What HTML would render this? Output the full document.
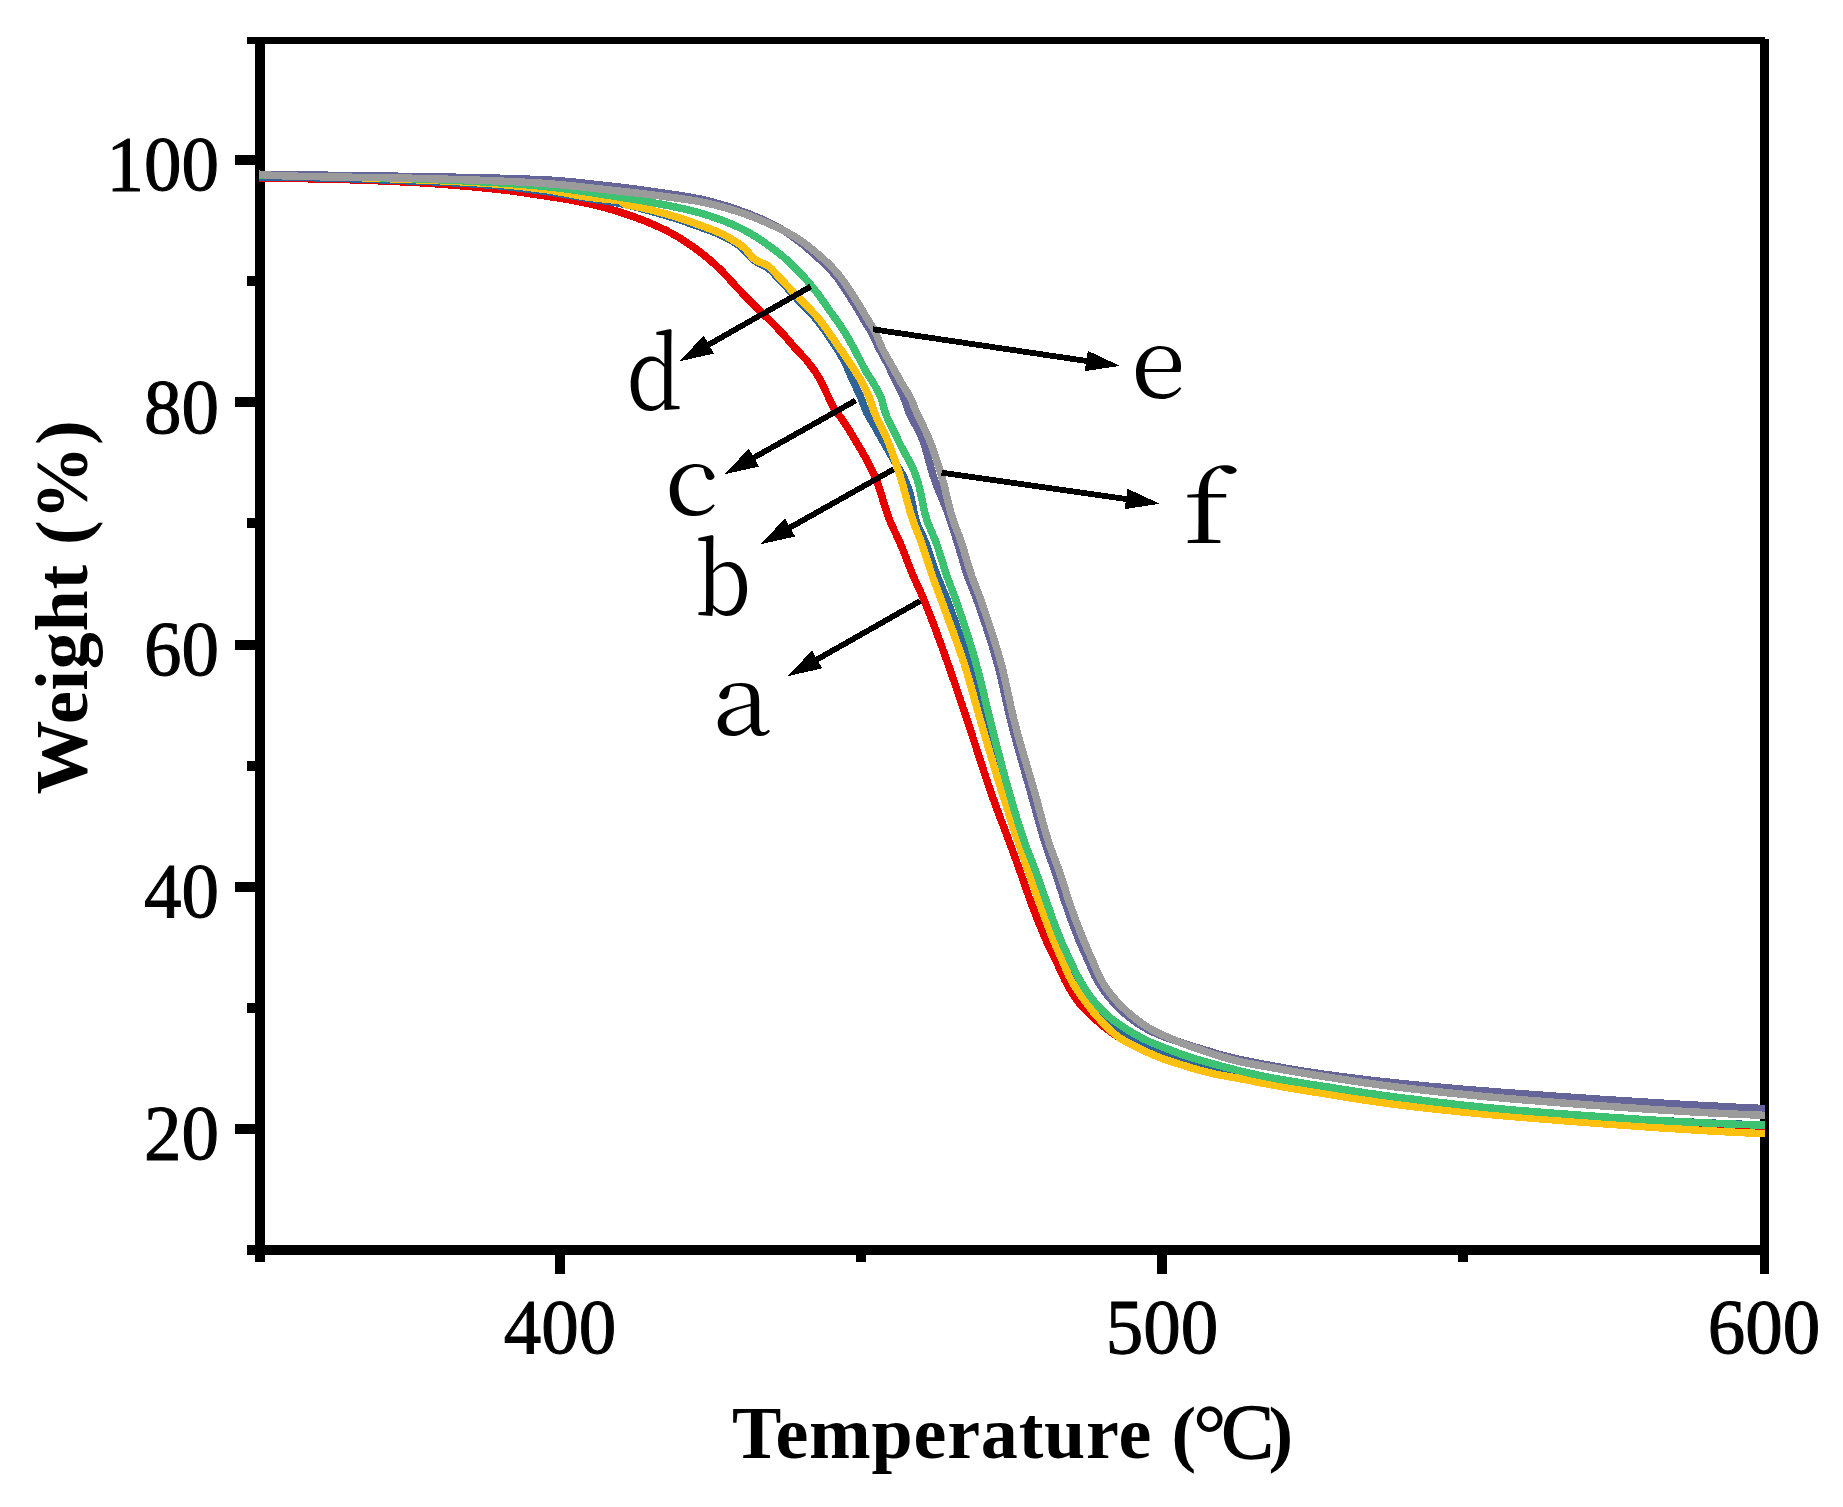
<!DOCTYPE html>
<html lang="en"><head><meta charset="utf-8"><title>TGA curves</title>
<style>html,body{margin:0;padding:0;background:#fff;overflow:hidden}svg{display:block}text{fill:#000}</style></head><body>
<svg width="1843" height="1507" viewBox="0 0 1843 1507">
<rect width="1843" height="1507" fill="#fff"/>
<g fill="#000" shape-rendering="crispEdges">
<rect x="255" y="37" width="10" height="1225"/>
<rect x="1760" y="39" width="9" height="1235"/>
<rect x="247" y="37" width="1518" height="7"/>
<rect x="247" y="1245" width="1522" height="10"/>
<rect x="235" y="1124" width="21" height="10"/>
<rect x="235" y="882" width="21" height="10"/>
<rect x="235" y="640" width="21" height="10"/>
<rect x="235" y="397" width="21" height="10"/>
<rect x="235" y="155" width="21" height="10"/>
<rect x="247" y="1003" width="9" height="10"/>
<rect x="247" y="761" width="9" height="10"/>
<rect x="247" y="518" width="9" height="10"/>
<rect x="247" y="276" width="9" height="10"/>
<rect x="555" y="1254" width="10" height="20"/>
<rect x="1157" y="1254" width="10" height="20"/>
<rect x="856" y="1254" width="10" height="8"/>
<rect x="1458" y="1254" width="10" height="8"/>
</g>
<g fill="none" stroke-width="7.5" stroke-linejoin="round" stroke-linecap="butt" shape-rendering="crispEdges">
<path stroke="#e60000" d="M259.0 178.0 L261.0 178.0 L263.0 178.0 L265.0 178.1 L267.0 178.1 L269.0 178.1 L271.0 178.1 L273.0 178.1 L275.0 178.2 L277.0 178.2 L279.0 178.2 L281.0 178.2 L283.0 178.3 L285.0 178.3 L287.0 178.3 L289.0 178.4 L291.0 178.4 L293.0 178.4 L295.0 178.5 L297.0 178.5 L299.0 178.6 L301.0 178.6 L303.0 178.6 L305.0 178.7 L307.0 178.7 L309.0 178.8 L311.0 178.8 L313.0 178.9 L315.0 178.9 L317.0 178.9 L319.0 179.0 L321.0 179.0 L323.0 179.1 L325.0 179.1 L327.0 179.2 L329.0 179.2 L331.0 179.3 L333.0 179.3 L335.0 179.4 L337.0 179.4 L339.0 179.5 L341.0 179.5 L343.0 179.6 L345.0 179.6 L347.0 179.7 L349.0 179.7 L351.0 179.8 L353.0 179.9 L355.0 179.9 L357.0 180.0 L359.0 180.1 L361.0 180.1 L363.0 180.2 L365.0 180.3 L367.0 180.3 L369.0 180.4 L371.0 180.5 L373.0 180.6 L375.0 180.6 L377.0 180.7 L379.0 180.8 L381.0 180.9 L383.0 181.0 L385.0 181.1 L387.0 181.1 L389.0 181.2 L391.0 181.3 L393.0 181.4 L395.0 181.5 L397.0 181.6 L399.0 181.7 L400.9 181.8 L402.9 181.9 L404.9 182.0 L406.9 182.1 L408.9 182.2 L410.9 182.3 L412.9 182.4 L414.9 182.5 L416.9 182.6 L418.9 182.7 L420.9 182.8 L422.9 183.0 L424.9 183.1 L426.9 183.2 L428.9 183.3 L430.9 183.5 L432.9 183.6 L434.9 183.7 L436.9 183.9 L438.9 184.0 L440.9 184.2 L442.9 184.3 L444.9 184.5 L446.9 184.6 L448.9 184.8 L450.9 184.9 L452.8 185.1 L454.8 185.2 L456.8 185.4 L458.8 185.6 L460.8 185.8 L462.8 185.9 L464.8 186.1 L466.8 186.3 L468.8 186.5 L470.8 186.6 L472.8 186.8 L474.8 187.0 L476.8 187.2 L478.8 187.4 L480.7 187.6 L482.7 187.8 L484.7 188.0 L486.7 188.2 L488.7 188.4 L490.7 188.6 L492.7 188.8 L494.7 189.0 L496.7 189.2 L498.6 189.4 L500.6 189.6 L502.6 189.9 L504.6 190.1 L506.6 190.3 L508.6 190.6 L510.5 190.8 L512.5 191.1 L514.5 191.4 L516.5 191.6 L518.5 191.9 L520.5 192.2 L522.4 192.5 L524.4 192.8 L526.4 193.1 L528.4 193.4 L530.4 193.7 L532.3 194.0 L534.3 194.3 L536.3 194.6 L538.3 194.9 L540.2 195.2 L542.2 195.5 L544.2 195.8 L546.2 196.1 L548.2 196.4 L550.1 196.7 L552.1 197.0 L554.1 197.3 L556.1 197.6 L558.0 197.9 L560.0 198.3 L562.0 198.6 L564.0 198.9 L566.0 199.3 L567.9 199.6 L569.9 199.9 L571.9 200.3 L573.8 200.6 L575.8 201.0 L577.8 201.4 L579.7 201.8 L581.7 202.2 L583.6 202.6 L585.6 203.0 L587.5 203.4 L589.5 203.8 L591.4 204.3 L593.4 204.7 L595.3 205.2 L597.3 205.7 L599.2 206.2 L601.1 206.7 L603.1 207.2 L605.0 207.7 L606.9 208.3 L608.9 208.8 L610.8 209.4 L612.7 209.9 L614.6 210.5 L616.5 211.1 L618.5 211.7 L620.4 212.3 L622.3 213.0 L624.2 213.6 L626.1 214.2 L628.0 214.9 L629.9 215.5 L631.8 216.2 L633.6 216.8 L635.5 217.5 L637.4 218.2 L639.3 218.9 L641.1 219.6 L643.0 220.3 L644.9 221.0 L646.7 221.7 L648.6 222.5 L650.4 223.3 L652.3 224.1 L654.1 224.9 L656.0 225.7 L657.8 226.5 L659.6 227.3 L661.4 228.2 L663.2 229.1 L665.0 229.9 L666.8 230.8 L668.6 231.8 L670.3 232.7 L672.1 233.6 L673.8 234.6 L675.5 235.6 L677.3 236.6 L679.0 237.6 L680.7 238.7 L682.4 239.7 L684.1 240.8 L685.8 241.9 L687.4 243.0 L689.1 244.2 L690.8 245.3 L692.4 246.5 L694.0 247.6 L695.7 248.8 L697.3 250.0 L698.9 251.2 L700.5 252.4 L702.1 253.6 L703.6 254.8 L705.2 256.1 L706.7 257.3 L708.3 258.6 L709.8 259.9 L711.3 261.2 L712.8 262.6 L714.3 263.9 L715.8 265.3 L717.2 266.6 L718.7 268.0 L720.1 269.4 L721.5 270.8 L722.9 272.2 L724.3 273.7 L725.7 275.1 L727.1 276.6 L728.4 278.0 L729.8 279.5 L731.1 281.0 L732.4 282.5 L733.8 284.0 L735.1 285.5 L736.5 286.9 L737.9 288.4 L739.2 289.9 L740.6 291.3 L742.0 292.7 L743.4 294.2 L744.8 295.6 L746.2 297.0 L747.6 298.5 L749.0 299.9 L750.4 301.3 L751.8 302.8 L753.2 304.2 L754.6 305.6 L756.0 307.0 L757.4 308.4 L758.8 309.8 L760.3 311.2 L761.7 312.6 L763.2 314.0 L764.6 315.4 L766.1 316.8 L767.5 318.1 L769.0 319.5 L770.4 320.9 L771.8 322.3 L773.2 323.7 L774.6 325.2 L776.0 326.6 L777.4 328.1 L778.8 329.5 L780.1 331.0 L781.5 332.4 L782.8 333.9 L784.2 335.4 L785.5 336.9 L786.8 338.4 L788.1 339.9 L789.4 341.4 L790.7 342.9 L792.0 344.5 L793.4 346.0 L794.7 347.5 L796.0 349.0 L797.3 350.5 L798.7 351.9 L800.1 353.4 L801.5 354.8 L802.9 356.3 L804.2 357.7 L805.6 359.2 L806.9 360.7 L808.1 362.3 L809.4 363.8 L810.6 365.4 L811.8 367.0 L813.0 368.6 L814.2 370.3 L815.3 371.9 L816.4 373.6 L817.5 375.3 L818.6 377.0 L819.6 378.7 L820.5 380.4 L821.4 382.2 L822.3 384.0 L823.2 385.8 L824.0 387.6 L824.9 389.4 L825.7 391.3 L826.6 393.1 L827.4 394.9 L828.3 396.7 L829.1 398.5 L830.0 400.3 L830.8 402.2 L831.7 404.0 L832.5 405.8 L833.5 407.5 L834.5 409.3 L835.5 410.9 L836.7 412.5 L838.0 414.1 L839.3 415.6 L840.5 417.2 L841.6 418.9 L842.8 420.5 L843.9 422.2 L845.0 423.8 L846.1 425.5 L847.2 427.2 L848.3 428.9 L849.4 430.5 L850.4 432.2 L851.5 433.9 L852.5 435.6 L853.6 437.4 L854.6 439.1 L855.6 440.8 L856.6 442.5 L857.7 444.2 L858.7 446.0 L859.7 447.7 L860.7 449.4 L861.7 451.1 L862.7 452.9 L863.7 454.6 L864.7 456.4 L865.7 458.1 L866.7 459.9 L867.7 461.7 L868.6 463.4 L869.5 465.2 L870.4 467.0 L871.3 468.8 L872.2 470.6 L873.0 472.4 L873.9 474.2 L874.7 476.0 L875.4 477.8 L876.2 479.6 L876.9 481.5 L877.6 483.4 L878.3 485.2 L878.9 487.1 L879.5 489.0 L880.2 490.9 L880.8 492.8 L881.4 494.7 L882.0 496.7 L882.5 498.6 L883.1 500.5 L883.7 502.4 L884.3 504.4 L884.9 506.3 L885.5 508.2 L886.1 510.1 L886.7 512.0 L887.4 513.9 L888.0 515.8 L888.7 517.7 L889.4 519.5 L890.2 521.4 L890.9 523.2 L891.7 525.1 L892.6 526.9 L893.4 528.7 L894.3 530.5 L895.1 532.3 L896.0 534.1 L896.9 535.9 L897.7 537.7 L898.6 539.5 L899.4 541.4 L900.2 543.2 L900.9 545.0 L901.7 546.9 L902.5 548.7 L903.2 550.6 L904.0 552.5 L904.7 554.3 L905.4 556.2 L906.1 558.0 L906.9 559.9 L907.6 561.8 L908.3 563.6 L909.0 565.5 L909.8 567.4 L910.5 569.2 L911.3 571.1 L912.0 572.9 L912.8 574.8 L913.6 576.6 L914.4 578.5 L915.2 580.3 L916.0 582.1 L916.8 583.9 L917.7 585.7 L918.5 587.6 L919.3 589.4 L920.2 591.2 L921.0 593.0 L921.8 594.9 L922.6 596.7 L923.4 598.5 L924.2 600.4 L924.9 602.2 L925.7 604.1 L926.4 605.9 L927.2 607.8 L927.9 609.6 L928.6 611.5 L929.4 613.3 L930.1 615.2 L930.8 617.1 L931.5 618.9 L932.2 620.8 L933.0 622.7 L933.7 624.6 L934.4 626.4 L935.1 628.3 L935.8 630.2 L936.5 632.0 L937.2 633.9 L937.9 635.8 L938.5 637.7 L939.2 639.6 L939.9 641.4 L940.6 643.3 L941.3 645.2 L942.0 647.1 L942.6 649.0 L943.3 650.9 L944.0 652.7 L944.7 654.6 L945.3 656.5 L946.0 658.4 L946.7 660.3 L947.4 662.2 L948.0 664.0 L948.7 665.9 L949.4 667.8 L950.0 669.7 L950.7 671.6 L951.4 673.5 L952.0 675.4 L952.7 677.2 L953.3 679.1 L954.0 681.0 L954.6 682.9 L955.3 684.8 L955.9 686.7 L956.6 688.6 L957.2 690.5 L957.8 692.4 L958.5 694.3 L959.1 696.2 L959.8 698.1 L960.4 700.0 L961.0 701.9 L961.7 703.8 L962.3 705.7 L962.9 707.6 L963.6 709.5 L964.2 711.3 L964.8 713.2 L965.5 715.1 L966.1 717.0 L966.7 718.9 L967.4 720.8 L968.0 722.7 L968.6 724.6 L969.3 726.5 L969.9 728.4 L970.5 730.3 L971.2 732.2 L971.8 734.1 L972.4 736.0 L973.0 737.9 L973.6 739.8 L974.3 741.7 L974.9 743.6 L975.5 745.5 L976.1 747.4 L976.7 749.3 L977.3 751.2 L977.9 753.2 L978.6 755.1 L979.2 757.0 L979.8 758.9 L980.4 760.8 L981.0 762.7 L981.7 764.6 L982.3 766.5 L982.9 768.4 L983.5 770.3 L984.1 772.2 L984.8 774.1 L985.4 776.0 L986.0 777.9 L986.7 779.8 L987.3 781.7 L987.9 783.6 L988.6 785.4 L989.2 787.3 L989.9 789.2 L990.5 791.1 L991.2 793.0 L991.9 794.9 L992.5 796.8 L993.2 798.7 L993.9 800.5 L994.5 802.4 L995.2 804.3 L995.9 806.2 L996.6 808.1 L997.3 809.9 L998.0 811.8 L998.7 813.7 L999.4 815.5 L1000.1 817.4 L1000.8 819.3 L1001.5 821.2 L1002.2 823.0 L1003.0 824.9 L1003.7 826.8 L1004.4 828.6 L1005.1 830.5 L1005.8 832.4 L1006.5 834.3 L1007.2 836.1 L1007.9 838.0 L1008.6 839.9 L1009.3 841.7 L1010.0 843.6 L1010.7 845.5 L1011.4 847.4 L1012.1 849.3 L1012.7 851.1 L1013.4 853.0 L1014.1 854.9 L1014.8 856.8 L1015.5 858.7 L1016.2 860.5 L1016.8 862.4 L1017.5 864.3 L1018.2 866.2 L1018.9 868.1 L1019.5 869.9 L1020.2 871.8 L1020.9 873.7 L1021.6 875.6 L1022.2 877.5 L1022.9 879.4 L1023.5 881.3 L1024.2 883.1 L1024.9 885.0 L1025.5 886.9 L1026.2 888.8 L1026.8 890.7 L1027.5 892.6 L1028.2 894.5 L1028.8 896.4 L1029.5 898.3 L1030.2 900.1 L1030.9 902.0 L1031.5 903.9 L1032.2 905.8 L1033.0 907.6 L1033.7 909.5 L1034.4 911.4 L1035.1 913.2 L1035.8 915.1 L1036.5 917.0 L1037.2 918.8 L1038.0 920.7 L1038.7 922.6 L1039.5 924.4 L1040.2 926.3 L1041.0 928.1 L1041.7 930.0 L1042.5 931.8 L1043.3 933.7 L1044.1 935.5 L1044.8 937.3 L1045.6 939.2 L1046.5 941.0 L1047.3 942.8 L1048.1 944.6 L1049.0 946.4 L1049.9 948.2 L1050.7 950.0 L1051.6 951.8 L1052.5 953.6 L1053.4 955.4 L1054.2 957.2 L1055.1 959.0 L1056.0 960.8 L1056.9 962.6 L1057.7 964.4 L1058.6 966.2 L1059.4 968.1 L1060.2 969.9 L1061.1 971.7 L1061.9 973.5 L1062.7 975.4 L1063.6 977.2 L1064.4 979.0 L1065.3 980.8 L1066.3 982.5 L1067.2 984.3 L1068.2 986.0 L1069.2 987.8 L1070.2 989.5 L1071.2 991.3 L1072.3 993.0 L1073.3 994.7 L1074.4 996.4 L1075.5 998.0 L1076.7 999.7 L1077.8 1001.3 L1079.0 1002.8 L1080.3 1004.4 L1081.6 1005.9 L1082.9 1007.4 L1084.3 1008.8 L1085.7 1010.3 L1087.1 1011.7 L1088.5 1013.1 L1090.0 1014.5 L1091.5 1015.8 L1093.0 1017.2 L1094.5 1018.5 L1096.0 1019.9 L1097.5 1021.2 L1099.0 1022.5 L1100.5 1023.8 L1102.0 1025.1 L1103.6 1026.4 L1105.1 1027.6 L1106.7 1028.9 L1108.3 1030.1 L1109.9 1031.3 L1111.5 1032.5 L1113.2 1033.6 L1114.8 1034.7 L1116.5 1035.8 L1118.2 1036.8 L1119.9 1037.9 L1121.6 1038.9 L1123.4 1039.8 L1125.1 1040.8 L1126.9 1041.7 L1128.7 1042.6 L1130.5 1043.5 L1132.3 1044.4 L1134.1 1045.3 L1135.9 1046.1 L1137.7 1047.0 L1139.5 1047.9 L1141.3 1048.7 L1143.1 1049.6 L1145.0 1050.4 L1146.8 1051.2 L1148.6 1052.0 L1150.5 1052.8 L1152.3 1053.6 L1154.1 1054.4 L1156.0 1055.1 L1157.9 1055.9 L1159.7 1056.6 L1161.6 1057.3 L1163.5 1057.9 L1165.4 1058.6 L1167.3 1059.3 L1169.2 1059.9 L1171.1 1060.5 L1173.0 1061.1 L1174.9 1061.8 L1176.8 1062.4 L1178.7 1063.0 L1180.6 1063.6 L1182.5 1064.1 L1184.4 1064.7 L1186.3 1065.3 L1188.3 1065.9 L1190.2 1066.4 L1192.1 1066.9 L1194.0 1067.5 L1196.0 1068.0 L1197.9 1068.5 L1199.8 1069.0 L1201.8 1069.5 L1203.7 1070.0 L1205.6 1070.5 L1207.6 1071.0 L1209.5 1071.5 L1211.5 1071.9 L1213.4 1072.4 L1215.4 1072.8 L1217.3 1073.2 L1219.3 1073.6 L1221.3 1074.0 L1223.2 1074.3 L1225.2 1074.7 L1227.2 1075.0 L1229.1 1075.4 L1231.1 1075.7 L1233.1 1076.1 L1235.0 1076.4 L1237.0 1076.8 L1239.0 1077.1 L1241.0 1077.5 L1242.9 1077.8 L1244.9 1078.2 L1246.8 1078.6 L1248.8 1079.0 L1250.8 1079.4 L1252.7 1079.7 L1254.7 1080.1 L1256.7 1080.5 L1258.6 1080.9 L1260.6 1081.2 L1262.6 1081.6 L1264.5 1082.0 L1266.5 1082.4 L1268.5 1082.7 L1270.4 1083.1 L1272.4 1083.4 L1274.4 1083.8 L1276.3 1084.1 L1278.3 1084.5 L1280.3 1084.8 L1282.2 1085.2 L1284.2 1085.5 L1286.2 1085.8 L1288.2 1086.2 L1290.1 1086.5 L1292.1 1086.9 L1294.1 1087.2 L1296.0 1087.5 L1298.0 1087.8 L1300.0 1088.2 L1302.0 1088.5 L1303.9 1088.8 L1305.9 1089.1 L1307.9 1089.5 L1309.9 1089.8 L1311.8 1090.1 L1313.8 1090.4 L1315.8 1090.7 L1317.8 1091.0 L1319.7 1091.4 L1321.7 1091.7 L1323.7 1092.0 L1325.7 1092.3 L1327.6 1092.6 L1329.6 1092.9 L1331.6 1093.3 L1333.6 1093.6 L1335.5 1093.9 L1337.5 1094.2 L1339.5 1094.5 L1341.5 1094.8 L1343.4 1095.2 L1345.4 1095.5 L1347.4 1095.8 L1349.4 1096.1 L1351.3 1096.4 L1353.3 1096.7 L1355.3 1097.0 L1357.3 1097.3 L1359.3 1097.6 L1361.2 1097.9 L1363.2 1098.2 L1365.2 1098.5 L1367.2 1098.8 L1369.2 1099.1 L1371.1 1099.4 L1373.1 1099.6 L1375.1 1099.9 L1377.1 1100.2 L1379.1 1100.5 L1381.0 1100.7 L1383.0 1101.0 L1385.0 1101.3 L1387.0 1101.6 L1389.0 1101.8 L1390.9 1102.1 L1392.9 1102.3 L1394.9 1102.6 L1396.9 1102.8 L1398.9 1103.1 L1400.9 1103.3 L1402.8 1103.5 L1404.8 1103.8 L1406.8 1104.0 L1408.8 1104.2 L1410.8 1104.5 L1412.8 1104.7 L1414.8 1104.9 L1416.7 1105.2 L1418.7 1105.4 L1420.7 1105.6 L1422.7 1105.8 L1424.7 1106.1 L1426.7 1106.3 L1428.7 1106.5 L1430.7 1106.7 L1432.6 1106.9 L1434.6 1107.1 L1436.6 1107.4 L1438.6 1107.6 L1440.6 1107.8 L1442.6 1108.0 L1444.6 1108.2 L1446.6 1108.4 L1448.6 1108.6 L1450.5 1108.8 L1452.5 1109.0 L1454.5 1109.2 L1456.5 1109.4 L1458.5 1109.6 L1460.5 1109.8 L1462.5 1110.0 L1464.5 1110.2 L1466.5 1110.4 L1468.5 1110.6 L1470.5 1110.8 L1472.4 1111.0 L1474.4 1111.2 L1476.4 1111.4 L1478.4 1111.5 L1480.4 1111.7 L1482.4 1111.9 L1484.4 1112.1 L1486.4 1112.3 L1488.4 1112.5 L1490.4 1112.6 L1492.4 1112.8 L1494.4 1113.0 L1496.4 1113.2 L1498.3 1113.3 L1500.3 1113.5 L1502.3 1113.7 L1504.3 1113.9 L1506.3 1114.0 L1508.3 1114.2 L1510.3 1114.4 L1512.3 1114.5 L1514.3 1114.7 L1516.3 1114.9 L1518.3 1115.0 L1520.3 1115.2 L1522.3 1115.4 L1524.3 1115.5 L1526.2 1115.7 L1528.2 1115.9 L1530.2 1116.0 L1532.2 1116.2 L1534.2 1116.3 L1536.2 1116.5 L1538.2 1116.7 L1540.2 1116.8 L1542.2 1117.0 L1544.2 1117.1 L1546.2 1117.3 L1548.2 1117.5 L1550.2 1117.6 L1552.2 1117.8 L1554.1 1117.9 L1556.1 1118.1 L1558.1 1118.2 L1560.1 1118.4 L1562.1 1118.6 L1564.1 1118.7 L1566.1 1118.9 L1568.1 1119.0 L1570.1 1119.2 L1572.1 1119.3 L1574.1 1119.5 L1576.1 1119.6 L1578.1 1119.8 L1580.1 1119.9 L1582.1 1120.1 L1584.1 1120.2 L1586.0 1120.4 L1588.0 1120.6 L1590.0 1120.7 L1592.0 1120.9 L1594.0 1121.0 L1596.0 1121.1 L1598.0 1121.3 L1600.0 1121.4 L1602.0 1121.6 L1604.0 1121.7 L1606.0 1121.9 L1608.0 1122.0 L1610.0 1122.2 L1612.0 1122.3 L1614.0 1122.5 L1616.0 1122.6 L1618.0 1122.8 L1620.0 1122.9 L1621.9 1123.0 L1623.9 1123.2 L1625.9 1123.3 L1627.9 1123.5 L1629.9 1123.6 L1631.9 1123.7 L1633.9 1123.9 L1635.9 1124.0 L1637.9 1124.2 L1639.9 1124.3 L1641.9 1124.4 L1643.9 1124.6 L1645.9 1124.7 L1647.9 1124.8 L1649.9 1125.0 L1651.9 1125.1 L1653.9 1125.2 L1655.9 1125.4 L1657.9 1125.5 L1659.9 1125.6 L1661.9 1125.8 L1663.8 1125.9 L1665.8 1126.0 L1667.8 1126.2 L1669.8 1126.3 L1671.8 1126.4 L1673.8 1126.5 L1675.8 1126.7 L1677.8 1126.8 L1679.8 1126.9 L1681.8 1127.0 L1683.8 1127.2 L1685.8 1127.3 L1687.8 1127.4 L1689.8 1127.5 L1691.8 1127.6 L1693.8 1127.8 L1695.8 1127.9 L1697.8 1128.0 L1699.8 1128.1 L1701.8 1128.2 L1703.8 1128.4 L1705.8 1128.5 L1707.8 1128.6 L1709.8 1128.7 L1711.8 1128.8 L1713.8 1128.9 L1715.8 1129.0 L1717.8 1129.1 L1719.8 1129.2 L1721.8 1129.4 L1723.8 1129.5 L1725.8 1129.6 L1727.8 1129.7 L1729.8 1129.8 L1731.7 1129.9 L1733.7 1130.0 L1735.7 1130.1 L1737.7 1130.2 L1739.7 1130.3 L1741.7 1130.4 L1743.7 1130.5 L1745.7 1130.6 L1747.7 1130.7 L1749.7 1130.8 L1751.7 1130.9 L1753.7 1131.0 L1755.7 1131.1 L1757.7 1131.2 L1759.7 1131.3 L1761.7 1131.4 L1763.7 1131.4 L1765.0 1131.5"/>
<path stroke="#2f6497" d="M259.0 176.8 L261.0 176.8 L263.0 176.8 L265.0 176.9 L267.0 176.9 L269.0 176.9 L271.0 176.9 L273.0 177.0 L275.0 177.0 L277.0 177.0 L279.0 177.0 L281.0 177.1 L283.0 177.1 L285.0 177.1 L287.0 177.2 L289.0 177.2 L291.0 177.2 L293.0 177.3 L295.0 177.3 L297.0 177.4 L299.0 177.4 L301.0 177.4 L303.0 177.5 L305.0 177.5 L307.0 177.6 L309.0 177.6 L311.0 177.7 L313.0 177.7 L315.0 177.8 L317.0 177.8 L319.0 177.9 L321.0 177.9 L323.0 178.0 L325.0 178.0 L327.0 178.1 L329.0 178.1 L331.0 178.2 L333.0 178.3 L335.0 178.3 L337.0 178.4 L339.0 178.4 L341.0 178.5 L343.0 178.5 L345.0 178.6 L347.0 178.7 L349.0 178.7 L351.0 178.8 L353.0 178.9 L355.0 178.9 L357.0 179.0 L359.0 179.1 L361.0 179.1 L363.0 179.2 L365.0 179.3 L367.0 179.3 L369.0 179.4 L371.0 179.5 L373.0 179.5 L375.0 179.6 L377.0 179.7 L379.0 179.7 L381.0 179.8 L383.0 179.9 L385.0 180.0 L387.0 180.0 L389.0 180.1 L391.0 180.2 L393.0 180.2 L395.0 180.3 L397.0 180.4 L399.0 180.5 L401.0 180.5 L403.0 180.6 L405.0 180.7 L406.9 180.8 L408.9 180.8 L410.9 180.9 L412.9 181.0 L414.9 181.1 L416.9 181.2 L418.9 181.2 L420.9 181.3 L422.9 181.4 L424.9 181.5 L426.9 181.6 L428.9 181.6 L430.9 181.7 L432.9 181.8 L434.9 181.9 L436.9 182.0 L438.9 182.1 L440.9 182.2 L442.9 182.3 L444.9 182.4 L446.9 182.5 L448.9 182.6 L450.9 182.7 L452.9 182.8 L454.9 182.9 L456.9 183.0 L458.9 183.2 L460.9 183.3 L462.9 183.4 L464.9 183.5 L466.9 183.6 L468.9 183.7 L470.9 183.9 L472.9 184.0 L474.9 184.1 L476.9 184.3 L478.9 184.4 L480.9 184.5 L482.9 184.7 L484.9 184.8 L486.8 185.0 L488.8 185.1 L490.8 185.3 L492.8 185.4 L494.8 185.6 L496.8 185.7 L498.8 185.9 L500.8 186.1 L502.8 186.3 L504.8 186.5 L506.8 186.7 L508.7 186.9 L510.7 187.1 L512.7 187.3 L514.7 187.5 L516.7 187.8 L518.7 188.0 L520.7 188.3 L522.7 188.5 L524.6 188.8 L526.6 189.0 L528.6 189.3 L530.6 189.5 L532.6 189.8 L534.6 190.1 L536.5 190.3 L538.5 190.6 L540.5 190.9 L542.5 191.2 L544.5 191.4 L546.5 191.7 L548.4 192.0 L550.4 192.3 L552.4 192.6 L554.4 192.9 L556.3 193.2 L558.3 193.5 L560.3 193.9 L562.3 194.2 L564.2 194.5 L566.2 194.9 L568.2 195.2 L570.1 195.5 L572.1 195.9 L574.1 196.2 L576.1 196.6 L578.0 196.9 L580.0 197.2 L582.0 197.6 L583.9 197.9 L585.9 198.2 L587.9 198.5 L589.9 198.8 L591.8 199.1 L593.8 199.4 L595.8 199.7 L597.8 200.0 L599.8 200.3 L601.8 200.5 L603.7 200.8 L605.7 201.1 L607.7 201.4 L609.7 201.7 L611.7 202.0 L613.6 202.3 L615.6 202.6 L617.6 202.9 L619.5 203.3 L621.5 203.7 L623.4 204.1 L625.4 204.6 L627.3 205.1 L629.3 205.6 L631.2 206.0 L633.2 206.5 L635.1 207.0 L637.0 207.5 L639.0 208.0 L640.9 208.5 L642.8 209.0 L644.8 209.5 L646.7 210.1 L648.6 210.6 L650.6 211.1 L652.5 211.7 L654.4 212.2 L656.3 212.8 L658.3 213.3 L660.2 213.9 L662.1 214.4 L664.0 215.0 L665.9 215.6 L667.9 216.1 L669.8 216.7 L671.7 217.3 L673.6 217.9 L675.5 218.5 L677.4 219.1 L679.3 219.8 L681.2 220.4 L683.1 221.0 L685.0 221.7 L686.9 222.3 L688.8 223.0 L690.6 223.7 L692.5 224.3 L694.4 225.0 L696.3 225.7 L698.2 226.3 L700.1 227.0 L701.9 227.7 L703.8 228.4 L705.7 229.1 L707.6 229.7 L709.5 230.4 L711.4 231.1 L713.2 231.9 L715.1 232.6 L716.9 233.4 L718.8 234.2 L720.6 235.0 L722.4 235.8 L724.2 236.7 L726.0 237.6 L727.8 238.6 L729.5 239.5 L731.3 240.5 L733.0 241.6 L734.7 242.6 L736.4 243.7 L738.0 244.8 L739.6 246.0 L741.1 247.2 L742.6 248.6 L744.0 250.0 L745.4 251.4 L746.8 252.9 L748.2 254.4 L749.6 255.9 L751.0 257.3 L752.5 258.7 L754.0 260.0 L755.6 261.1 L757.2 262.2 L759.0 263.1 L760.8 264.1 L762.6 265.0 L764.4 266.0 L766.1 267.0 L767.8 268.0 L769.3 269.2 L770.8 270.5 L772.3 271.9 L773.7 273.3 L775.1 274.8 L776.5 276.3 L777.8 277.7 L779.2 279.2 L780.6 280.6 L782.0 282.1 L783.3 283.6 L784.7 285.0 L786.0 286.5 L787.3 288.0 L788.7 289.5 L790.0 291.0 L791.3 292.5 L792.7 294.0 L794.0 295.5 L795.3 297.0 L796.7 298.4 L798.1 299.9 L799.5 301.3 L800.9 302.8 L802.3 304.2 L803.7 305.6 L805.1 307.0 L806.5 308.4 L807.9 309.9 L809.3 311.3 L810.6 312.8 L811.9 314.3 L813.3 315.8 L814.6 317.3 L815.9 318.8 L817.1 320.4 L818.4 321.9 L819.6 323.5 L820.8 325.1 L822.0 326.7 L823.2 328.3 L824.4 329.9 L825.6 331.6 L826.7 333.2 L827.9 334.8 L829.0 336.5 L830.1 338.2 L831.2 339.8 L832.3 341.5 L833.4 343.2 L834.5 344.8 L835.6 346.5 L836.7 348.2 L837.7 349.9 L838.8 351.6 L839.8 353.3 L840.9 355.0 L841.8 356.8 L842.8 358.5 L843.7 360.3 L844.6 362.1 L845.5 363.8 L846.4 365.7 L847.2 367.5 L848.0 369.3 L848.8 371.1 L849.6 373.0 L850.4 374.8 L851.2 376.6 L852.1 378.5 L852.9 380.3 L853.7 382.1 L854.6 383.9 L855.4 385.7 L856.3 387.5 L857.1 389.4 L858.0 391.2 L858.8 393.0 L859.6 394.8 L860.4 396.7 L861.2 398.5 L861.9 400.3 L862.6 402.2 L863.3 404.1 L864.0 406.0 L864.6 407.9 L865.4 409.7 L866.2 411.5 L867.1 413.3 L868.0 415.1 L869.0 416.8 L870.0 418.6 L871.0 420.3 L872.0 422.0 L873.1 423.8 L874.1 425.5 L875.1 427.2 L876.1 429.0 L877.1 430.7 L878.0 432.4 L879.0 434.2 L880.0 435.9 L881.0 437.7 L882.0 439.4 L883.0 441.1 L884.0 442.9 L884.9 444.6 L885.9 446.4 L886.9 448.1 L887.9 449.8 L888.9 451.6 L889.9 453.3 L890.9 455.0 L891.9 456.8 L892.9 458.5 L893.9 460.2 L894.9 462.0 L895.9 463.7 L897.0 465.4 L898.0 467.1 L899.1 468.8 L900.1 470.5 L901.2 472.3 L902.1 474.0 L903.1 475.8 L903.9 477.5 L904.8 479.4 L905.5 481.2 L906.3 483.0 L907.0 484.9 L907.8 486.8 L908.4 488.7 L909.1 490.6 L909.7 492.5 L910.2 494.4 L910.7 496.3 L911.2 498.3 L911.6 500.2 L912.0 502.2 L912.4 504.2 L912.8 506.1 L913.2 508.1 L913.6 510.1 L914.0 512.1 L914.4 514.0 L914.8 516.0 L915.3 517.9 L915.8 519.8 L916.4 521.7 L917.1 523.5 L917.8 525.4 L918.6 527.2 L919.4 529.1 L920.2 530.9 L921.1 532.7 L922.0 534.5 L922.8 536.4 L923.7 538.2 L924.5 540.0 L925.2 541.9 L926.0 543.7 L926.7 545.6 L927.3 547.5 L928.0 549.4 L928.7 551.3 L929.3 553.1 L930.0 555.0 L930.6 556.9 L931.3 558.8 L931.9 560.7 L932.5 562.6 L933.2 564.5 L933.8 566.4 L934.5 568.3 L935.1 570.2 L935.8 572.1 L936.5 574.0 L937.2 575.8 L937.9 577.7 L938.7 579.5 L939.4 581.4 L940.2 583.2 L941.0 585.1 L941.7 586.9 L942.5 588.8 L943.3 590.6 L944.1 592.5 L944.8 594.3 L945.6 596.2 L946.3 598.0 L947.1 599.9 L947.8 601.8 L948.5 603.6 L949.2 605.5 L949.9 607.4 L950.6 609.2 L951.2 611.1 L951.9 613.0 L952.6 614.9 L953.3 616.8 L954.0 618.6 L954.6 620.5 L955.3 622.4 L956.0 624.3 L956.6 626.2 L957.3 628.1 L958.0 630.0 L958.6 631.9 L959.3 633.8 L959.9 635.7 L960.5 637.5 L961.2 639.4 L961.8 641.3 L962.5 643.2 L963.1 645.1 L963.7 647.0 L964.3 648.9 L965.0 650.8 L965.6 652.7 L966.2 654.6 L966.8 656.6 L967.4 658.5 L968.0 660.4 L968.6 662.3 L969.2 664.2 L969.8 666.1 L970.4 668.0 L971.0 669.9 L971.6 671.8 L972.1 673.7 L972.7 675.6 L973.3 677.6 L973.8 679.5 L974.4 681.4 L975.0 683.3 L975.5 685.2 L976.1 687.2 L976.6 689.1 L977.2 691.0 L977.7 692.9 L978.2 694.9 L978.8 696.8 L979.3 698.7 L979.9 700.6 L980.4 702.6 L980.9 704.5 L981.5 706.4 L982.0 708.4 L982.5 710.3 L983.1 712.2 L983.6 714.1 L984.1 716.1 L984.6 718.0 L985.2 719.9 L985.7 721.9 L986.2 723.8 L986.8 725.7 L987.3 727.7 L987.8 729.6 L988.3 731.5 L988.8 733.5 L989.3 735.4 L989.8 737.3 L990.3 739.3 L990.8 741.2 L991.3 743.1 L991.8 745.1 L992.3 747.0 L992.8 749.0 L993.3 750.9 L993.8 752.8 L994.3 754.8 L994.8 756.7 L995.3 758.6 L995.8 760.6 L996.3 762.5 L996.8 764.5 L997.3 766.4 L997.8 768.3 L998.3 770.3 L998.8 772.2 L999.4 774.1 L999.9 776.1 L1000.4 778.0 L1000.9 779.9 L1001.5 781.8 L1002.0 783.8 L1002.5 785.7 L1003.1 787.6 L1003.6 789.5 L1004.2 791.5 L1004.7 793.4 L1005.3 795.3 L1005.9 797.2 L1006.4 799.1 L1007.0 801.0 L1007.6 802.9 L1008.2 804.9 L1008.8 806.8 L1009.4 808.7 L1010.0 810.6 L1010.6 812.5 L1011.3 814.4 L1011.9 816.3 L1012.5 818.2 L1013.1 820.1 L1013.8 822.0 L1014.4 823.9 L1015.0 825.8 L1015.7 827.7 L1016.3 829.6 L1017.0 831.5 L1017.6 833.3 L1018.3 835.2 L1018.9 837.1 L1019.6 839.0 L1020.3 840.9 L1020.9 842.8 L1021.6 844.7 L1022.3 846.6 L1023.0 848.4 L1023.6 850.3 L1024.3 852.2 L1025.0 854.1 L1025.7 855.9 L1026.5 857.8 L1027.2 859.7 L1027.9 861.5 L1028.6 863.4 L1029.3 865.3 L1030.0 867.2 L1030.7 869.0 L1031.4 870.9 L1032.1 872.8 L1032.7 874.7 L1033.4 876.6 L1034.1 878.4 L1034.8 880.3 L1035.4 882.2 L1036.1 884.1 L1036.7 886.0 L1037.4 887.9 L1038.1 889.8 L1038.7 891.6 L1039.4 893.5 L1040.0 895.4 L1040.7 897.3 L1041.4 899.2 L1042.0 901.1 L1042.7 903.0 L1043.4 904.8 L1044.1 906.7 L1044.8 908.6 L1045.5 910.5 L1046.1 912.4 L1046.8 914.2 L1047.5 916.1 L1048.2 918.0 L1048.9 919.9 L1049.6 921.8 L1050.3 923.6 L1051.0 925.5 L1051.7 927.4 L1052.4 929.2 L1053.1 931.1 L1053.9 933.0 L1054.6 934.8 L1055.4 936.7 L1056.1 938.5 L1056.9 940.3 L1057.7 942.2 L1058.5 944.0 L1059.4 945.8 L1060.2 947.6 L1061.1 949.5 L1061.9 951.3 L1062.8 953.1 L1063.6 954.9 L1064.5 956.7 L1065.3 958.5 L1066.1 960.3 L1067.0 962.2 L1067.8 964.0 L1068.6 965.8 L1069.4 967.7 L1070.2 969.5 L1071.0 971.3 L1071.8 973.2 L1072.7 975.0 L1073.6 976.8 L1074.5 978.5 L1075.4 980.3 L1076.4 982.0 L1077.4 983.7 L1078.5 985.4 L1079.5 987.1 L1080.6 988.8 L1081.7 990.5 L1082.9 992.2 L1084.0 993.8 L1085.2 995.4 L1086.3 997.0 L1087.5 998.6 L1088.7 1000.2 L1090.0 1001.8 L1091.2 1003.4 L1092.5 1004.9 L1093.7 1006.5 L1095.0 1008.0 L1096.4 1009.5 L1097.7 1011.0 L1099.1 1012.5 L1100.4 1014.0 L1101.8 1015.4 L1103.2 1016.8 L1104.6 1018.2 L1106.1 1019.6 L1107.5 1021.0 L1109.0 1022.3 L1110.5 1023.6 L1112.0 1025.0 L1113.6 1026.3 L1115.1 1027.5 L1116.7 1028.8 L1118.3 1030.0 L1119.9 1031.2 L1121.5 1032.4 L1123.2 1033.5 L1124.8 1034.6 L1126.5 1035.6 L1128.2 1036.7 L1129.9 1037.7 L1131.7 1038.7 L1133.4 1039.6 L1135.2 1040.6 L1137.0 1041.5 L1138.8 1042.4 L1140.6 1043.3 L1142.4 1044.2 L1144.2 1045.1 L1146.0 1045.9 L1147.8 1046.7 L1149.6 1047.5 L1151.5 1048.3 L1153.3 1049.1 L1155.2 1049.9 L1157.0 1050.6 L1158.9 1051.4 L1160.7 1052.1 L1162.6 1052.8 L1164.5 1053.6 L1166.3 1054.3 L1168.2 1055.0 L1170.1 1055.7 L1172.0 1056.4 L1173.9 1057.0 L1175.7 1057.7 L1177.6 1058.3 L1179.5 1059.0 L1181.4 1059.6 L1183.3 1060.2 L1185.2 1060.8 L1187.1 1061.4 L1189.1 1062.0 L1191.0 1062.6 L1192.9 1063.2 L1194.8 1063.8 L1196.7 1064.3 L1198.6 1064.9 L1200.6 1065.4 L1202.5 1066.0 L1204.4 1066.5 L1206.3 1067.0 L1208.3 1067.6 L1210.2 1068.1 L1212.1 1068.6 L1214.1 1069.1 L1216.0 1069.6 L1218.0 1070.1 L1219.9 1070.5 L1221.8 1071.0 L1223.8 1071.4 L1225.8 1071.9 L1227.7 1072.3 L1229.7 1072.7 L1231.6 1073.1 L1233.6 1073.5 L1235.5 1073.9 L1237.5 1074.3 L1239.5 1074.7 L1241.4 1075.1 L1243.4 1075.5 L1245.3 1075.9 L1247.3 1076.3 L1249.3 1076.8 L1251.2 1077.2 L1253.2 1077.6 L1255.1 1078.0 L1257.1 1078.4 L1259.0 1078.8 L1261.0 1079.2 L1263.0 1079.6 L1264.9 1080.0 L1266.9 1080.4 L1268.8 1080.8 L1270.8 1081.1 L1272.8 1081.5 L1274.7 1081.9 L1276.7 1082.2 L1278.7 1082.6 L1280.6 1082.9 L1282.6 1083.3 L1284.6 1083.6 L1286.6 1083.9 L1288.5 1084.3 L1290.5 1084.6 L1292.5 1084.9 L1294.5 1085.2 L1296.4 1085.6 L1298.4 1085.9 L1300.4 1086.2 L1302.4 1086.5 L1304.3 1086.8 L1306.3 1087.1 L1308.3 1087.4 L1310.3 1087.7 L1312.2 1088.0 L1314.2 1088.4 L1316.2 1088.7 L1318.2 1089.0 L1320.1 1089.3 L1322.1 1089.6 L1324.1 1089.9 L1326.1 1090.2 L1328.0 1090.5 L1330.0 1090.8 L1332.0 1091.1 L1334.0 1091.4 L1336.0 1091.7 L1337.9 1092.0 L1339.9 1092.3 L1341.9 1092.6 L1343.9 1092.9 L1345.9 1093.2 L1347.8 1093.5 L1349.8 1093.8 L1351.8 1094.1 L1353.8 1094.4 L1355.7 1094.7 L1357.7 1095.0 L1359.7 1095.3 L1361.7 1095.5 L1363.7 1095.8 L1365.7 1096.1 L1367.6 1096.4 L1369.6 1096.7 L1371.6 1096.9 L1373.6 1097.2 L1375.6 1097.5 L1377.5 1097.7 L1379.5 1098.0 L1381.5 1098.3 L1383.5 1098.5 L1385.5 1098.8 L1387.5 1099.0 L1389.4 1099.3 L1391.4 1099.5 L1393.4 1099.7 L1395.4 1100.0 L1397.4 1100.2 L1399.4 1100.4 L1401.3 1100.7 L1403.3 1100.9 L1405.3 1101.1 L1407.3 1101.3 L1409.3 1101.5 L1411.3 1101.8 L1413.3 1102.0 L1415.3 1102.2 L1417.2 1102.4 L1419.2 1102.6 L1421.2 1102.8 L1423.2 1103.0 L1425.2 1103.2 L1427.2 1103.5 L1429.2 1103.7 L1431.2 1103.9 L1433.2 1104.1 L1435.1 1104.3 L1437.1 1104.5 L1439.1 1104.7 L1441.1 1104.9 L1443.1 1105.1 L1445.1 1105.3 L1447.1 1105.5 L1449.1 1105.7 L1451.1 1105.8 L1453.1 1106.0 L1455.1 1106.2 L1457.0 1106.4 L1459.0 1106.6 L1461.0 1106.8 L1463.0 1107.0 L1465.0 1107.2 L1467.0 1107.3 L1469.0 1107.5 L1471.0 1107.7 L1473.0 1107.9 L1475.0 1108.0 L1477.0 1108.2 L1479.0 1108.4 L1481.0 1108.6 L1483.0 1108.7 L1485.0 1108.9 L1486.9 1109.1 L1488.9 1109.2 L1490.9 1109.4 L1492.9 1109.6 L1494.9 1109.7 L1496.9 1109.9 L1498.9 1110.0 L1500.9 1110.2 L1502.9 1110.4 L1504.9 1110.5 L1506.9 1110.7 L1508.9 1110.8 L1510.9 1111.0 L1512.9 1111.1 L1514.9 1111.3 L1516.9 1111.4 L1518.8 1111.6 L1520.8 1111.7 L1522.8 1111.8 L1524.8 1112.0 L1526.8 1112.1 L1528.8 1112.3 L1530.8 1112.4 L1532.8 1112.5 L1534.8 1112.7 L1536.8 1112.8 L1538.8 1113.0 L1540.8 1113.1 L1542.8 1113.2 L1544.8 1113.4 L1546.8 1113.5 L1548.8 1113.6 L1550.8 1113.8 L1552.8 1113.9 L1554.7 1114.1 L1556.7 1114.2 L1558.7 1114.3 L1560.7 1114.5 L1562.7 1114.6 L1564.7 1114.7 L1566.7 1114.9 L1568.7 1115.0 L1570.7 1115.1 L1572.7 1115.3 L1574.7 1115.4 L1576.7 1115.5 L1578.7 1115.7 L1580.7 1115.8 L1582.7 1115.9 L1584.7 1116.0 L1586.7 1116.2 L1588.7 1116.3 L1590.7 1116.4 L1592.7 1116.6 L1594.6 1116.7 L1596.6 1116.8 L1598.6 1116.9 L1600.6 1117.1 L1602.6 1117.2 L1604.6 1117.3 L1606.6 1117.4 L1608.6 1117.6 L1610.6 1117.7 L1612.6 1117.8 L1614.6 1117.9 L1616.6 1118.1 L1618.6 1118.2 L1620.6 1118.3 L1622.6 1118.4 L1624.6 1118.5 L1626.6 1118.7 L1628.6 1118.8 L1630.6 1118.9 L1632.6 1119.0 L1634.6 1119.1 L1636.6 1119.2 L1638.6 1119.4 L1640.6 1119.5 L1642.6 1119.6 L1644.6 1119.7 L1646.6 1119.8 L1648.5 1119.9 L1650.5 1120.0 L1652.5 1120.1 L1654.5 1120.3 L1656.5 1120.4 L1658.5 1120.5 L1660.5 1120.6 L1662.5 1120.7 L1664.5 1120.8 L1666.5 1120.9 L1668.5 1121.0 L1670.5 1121.1 L1672.5 1121.2 L1674.5 1121.3 L1676.5 1121.4 L1678.5 1121.5 L1680.5 1121.6 L1682.5 1121.7 L1684.5 1121.8 L1686.5 1121.9 L1688.5 1122.0 L1690.5 1122.1 L1692.5 1122.2 L1694.5 1122.3 L1696.5 1122.4 L1698.5 1122.5 L1700.5 1122.6 L1702.5 1122.7 L1704.5 1122.7 L1706.5 1122.8 L1708.5 1122.9 L1710.5 1123.0 L1712.5 1123.1 L1714.5 1123.2 L1716.5 1123.3 L1718.5 1123.3 L1720.5 1123.4 L1722.5 1123.5 L1724.5 1123.6 L1726.5 1123.7 L1728.5 1123.7 L1730.5 1123.8 L1732.5 1123.9 L1734.5 1124.0 L1736.5 1124.1 L1738.5 1124.1 L1740.5 1124.2 L1742.5 1124.3 L1744.5 1124.3 L1746.5 1124.4 L1748.5 1124.5 L1750.5 1124.5 L1752.5 1124.6 L1754.5 1124.7 L1756.5 1124.7 L1758.5 1124.8 L1760.5 1124.9 L1762.5 1124.9 L1764.5 1125.0 L1765.0 1125.0"/>
<path stroke="#ffc010" d="M259.0 175.2 L261.0 175.2 L263.0 175.3 L265.0 175.3 L267.0 175.3 L269.0 175.3 L271.0 175.4 L273.0 175.4 L275.0 175.4 L277.0 175.5 L279.0 175.5 L281.0 175.5 L283.0 175.6 L285.0 175.6 L287.0 175.7 L289.0 175.7 L291.0 175.7 L293.0 175.8 L295.0 175.8 L297.0 175.9 L299.0 175.9 L301.0 176.0 L303.0 176.0 L305.0 176.1 L307.0 176.1 L309.0 176.2 L311.0 176.2 L313.0 176.3 L315.0 176.3 L317.0 176.4 L319.0 176.4 L321.0 176.5 L323.0 176.5 L325.0 176.6 L327.0 176.6 L329.0 176.7 L331.0 176.8 L333.0 176.8 L335.0 176.9 L337.0 176.9 L339.0 177.0 L341.0 177.1 L343.0 177.1 L345.0 177.2 L347.0 177.2 L349.0 177.3 L351.0 177.4 L353.0 177.4 L355.0 177.5 L357.0 177.6 L359.0 177.6 L361.0 177.7 L363.0 177.8 L365.0 177.8 L367.0 177.9 L369.0 178.0 L371.0 178.0 L373.0 178.1 L375.0 178.2 L377.0 178.3 L379.0 178.3 L381.0 178.4 L383.0 178.5 L385.0 178.5 L387.0 178.6 L389.0 178.7 L391.0 178.8 L393.0 178.8 L395.0 178.9 L397.0 179.0 L399.0 179.1 L400.9 179.1 L402.9 179.2 L404.9 179.3 L406.9 179.4 L408.9 179.4 L410.9 179.5 L412.9 179.6 L414.9 179.7 L416.9 179.8 L418.9 179.8 L420.9 179.9 L422.9 180.0 L424.9 180.1 L426.9 180.2 L428.9 180.2 L430.9 180.3 L432.9 180.4 L434.9 180.5 L436.9 180.6 L438.9 180.7 L440.9 180.8 L442.9 180.9 L444.9 181.0 L446.9 181.1 L448.9 181.2 L450.9 181.3 L452.9 181.4 L454.9 181.5 L456.9 181.6 L458.9 181.7 L460.9 181.8 L462.9 181.9 L464.9 182.0 L466.9 182.1 L468.9 182.2 L470.9 182.4 L472.9 182.5 L474.9 182.6 L476.9 182.7 L478.9 182.9 L480.9 183.0 L482.9 183.1 L484.9 183.3 L486.8 183.4 L488.8 183.5 L490.8 183.7 L492.8 183.8 L494.8 184.0 L496.8 184.1 L498.8 184.3 L500.8 184.4 L502.8 184.6 L504.8 184.8 L506.8 185.0 L508.8 185.2 L510.8 185.4 L512.7 185.6 L514.7 185.8 L516.7 186.0 L518.7 186.2 L520.7 186.4 L522.7 186.7 L524.7 186.9 L526.7 187.1 L528.7 187.4 L530.6 187.6 L532.6 187.9 L534.6 188.1 L536.6 188.4 L538.6 188.6 L540.6 188.9 L542.5 189.2 L544.5 189.4 L546.5 189.7 L548.5 190.0 L550.4 190.3 L552.4 190.6 L554.4 191.0 L556.4 191.3 L558.3 191.7 L560.3 192.1 L562.3 192.4 L564.2 192.8 L566.2 193.2 L568.2 193.6 L570.1 194.0 L572.1 194.3 L574.1 194.7 L576.0 195.1 L578.0 195.4 L580.0 195.8 L581.9 196.1 L583.9 196.5 L585.9 196.8 L587.9 197.0 L589.8 197.3 L591.8 197.6 L593.8 197.8 L595.8 198.0 L597.8 198.3 L599.8 198.5 L601.8 198.7 L603.7 198.9 L605.7 199.1 L607.7 199.3 L609.7 199.5 L611.7 199.8 L613.7 200.0 L615.8 200.2 L617.8 200.4 L619.7 200.7 L621.4 201.5 L623.0 202.8 L624.6 204.1 L626.4 204.9 L628.3 205.3 L630.3 205.6 L632.3 205.9 L634.3 206.3 L636.3 206.7 L638.2 207.1 L640.2 207.5 L642.1 207.9 L644.1 208.4 L646.0 208.8 L648.0 209.3 L649.9 209.7 L651.9 210.2 L653.8 210.7 L655.7 211.2 L657.7 211.7 L659.6 212.2 L661.6 212.7 L663.5 213.3 L665.4 213.8 L667.3 214.3 L669.3 214.9 L671.2 215.4 L673.1 216.0 L675.0 216.6 L676.9 217.2 L678.8 217.8 L680.7 218.4 L682.6 219.1 L684.5 219.7 L686.4 220.4 L688.3 221.0 L690.2 221.7 L692.1 222.3 L693.9 223.0 L695.8 223.7 L697.7 224.4 L699.6 225.1 L701.5 225.7 L703.4 226.4 L705.3 227.1 L707.1 227.8 L709.0 228.4 L710.9 229.1 L712.8 229.9 L714.6 230.6 L716.5 231.4 L718.3 232.2 L720.1 233.0 L721.9 233.8 L723.7 234.7 L725.4 235.7 L727.2 236.6 L729.0 237.6 L730.7 238.6 L732.4 239.7 L734.1 240.7 L735.8 241.8 L737.5 242.9 L739.2 244.0 L740.8 245.1 L742.4 246.3 L744.0 247.6 L745.4 249.0 L746.8 250.5 L748.1 252.0 L749.3 253.7 L750.6 255.3 L751.9 256.8 L753.3 258.2 L754.8 259.4 L756.4 260.4 L758.2 261.3 L760.0 262.1 L761.9 262.9 L763.8 263.7 L765.7 264.6 L767.4 265.6 L769.0 266.6 L770.5 267.9 L772.0 269.2 L773.3 270.7 L774.7 272.2 L776.1 273.7 L777.4 275.2 L778.8 276.7 L780.2 278.1 L781.6 279.6 L783.0 281.0 L784.3 282.5 L785.7 284.0 L787.0 285.4 L788.4 286.9 L789.7 288.4 L791.1 289.9 L792.4 291.3 L793.8 292.8 L795.2 294.2 L796.5 295.7 L797.9 297.1 L799.3 298.6 L800.7 300.0 L802.2 301.4 L803.6 302.8 L805.0 304.2 L806.5 305.6 L807.9 307.0 L809.3 308.4 L810.7 309.9 L812.0 311.3 L813.4 312.8 L814.8 314.2 L816.1 315.7 L817.4 317.2 L818.7 318.8 L820.0 320.3 L821.2 321.9 L822.4 323.4 L823.6 325.0 L824.8 326.7 L826.0 328.3 L827.1 329.9 L828.2 331.6 L829.4 333.2 L830.5 334.9 L831.7 336.5 L832.8 338.2 L834.0 339.8 L835.1 341.4 L836.3 343.1 L837.4 344.7 L838.5 346.4 L839.7 348.0 L840.8 349.7 L841.9 351.3 L843.0 353.0 L844.2 354.6 L845.3 356.3 L846.4 358.0 L847.5 359.6 L848.6 361.3 L849.8 362.9 L850.9 364.6 L852.0 366.3 L853.1 367.9 L854.2 369.6 L855.2 371.3 L856.3 373.0 L857.4 374.7 L858.5 376.3 L859.6 378.0 L860.6 379.7 L861.6 381.5 L862.5 383.2 L863.5 385.0 L864.4 386.8 L865.3 388.6 L866.2 390.4 L867.0 392.2 L867.8 394.0 L868.6 395.9 L869.4 397.7 L870.1 399.6 L870.8 401.4 L871.4 403.3 L872.0 405.3 L872.6 407.2 L873.2 409.1 L873.9 411.0 L874.6 412.8 L875.4 414.6 L876.2 416.5 L877.1 418.3 L877.9 420.1 L878.8 421.9 L879.7 423.7 L880.6 425.5 L881.5 427.2 L882.5 429.0 L883.3 430.8 L884.2 432.6 L885.1 434.4 L885.9 436.3 L886.7 438.1 L887.4 439.9 L888.2 441.8 L888.9 443.7 L889.6 445.5 L890.3 447.4 L891.0 449.3 L891.7 451.1 L892.4 453.0 L893.0 454.9 L893.7 456.8 L894.4 458.7 L895.0 460.6 L895.6 462.5 L896.3 464.4 L896.9 466.3 L897.5 468.2 L898.1 470.1 L898.8 472.0 L899.4 473.9 L900.0 475.8 L900.6 477.7 L901.2 479.6 L901.8 481.5 L902.3 483.5 L902.9 485.4 L903.4 487.3 L904.0 489.2 L904.5 491.2 L905.0 493.1 L905.6 495.0 L906.1 497.0 L906.6 498.9 L907.1 500.8 L907.7 502.8 L908.2 504.7 L908.7 506.6 L909.3 508.5 L909.8 510.5 L910.4 512.4 L911.0 514.3 L911.6 516.2 L912.2 518.1 L912.8 520.0 L913.4 521.9 L914.1 523.8 L914.8 525.6 L915.5 527.5 L916.3 529.4 L917.0 531.2 L917.8 533.1 L918.5 534.9 L919.2 536.8 L920.0 538.7 L920.7 540.5 L921.4 542.4 L922.0 544.3 L922.7 546.2 L923.3 548.1 L923.9 550.0 L924.6 551.9 L925.2 553.8 L925.8 555.7 L926.4 557.6 L927.0 559.5 L927.6 561.4 L928.2 563.3 L928.8 565.2 L929.4 567.2 L930.0 569.1 L930.6 571.0 L931.3 572.9 L931.9 574.7 L932.6 576.6 L933.2 578.5 L933.9 580.4 L934.6 582.3 L935.3 584.2 L936.0 586.0 L936.7 587.9 L937.4 589.8 L938.1 591.6 L938.8 593.5 L939.5 595.4 L940.2 597.3 L940.9 599.1 L941.6 601.0 L942.3 602.9 L943.0 604.8 L943.6 606.7 L944.3 608.5 L945.0 610.4 L945.7 612.3 L946.4 614.2 L947.1 616.0 L947.8 617.9 L948.5 619.8 L949.2 621.7 L949.9 623.5 L950.6 625.4 L951.3 627.3 L952.0 629.2 L952.7 631.0 L953.4 632.9 L954.1 634.8 L954.8 636.7 L955.5 638.6 L956.2 640.4 L956.8 642.3 L957.5 644.2 L958.2 646.1 L958.8 648.0 L959.5 649.9 L960.2 651.7 L960.8 653.6 L961.5 655.5 L962.1 657.4 L962.7 659.3 L963.3 661.2 L964.0 663.1 L964.6 665.0 L965.2 666.9 L965.8 668.8 L966.4 670.7 L966.9 672.6 L967.5 674.6 L968.1 676.5 L968.6 678.4 L969.2 680.3 L969.7 682.2 L970.3 684.2 L970.8 686.1 L971.4 688.0 L971.9 689.9 L972.4 691.9 L973.0 693.8 L973.5 695.7 L974.0 697.7 L974.6 699.6 L975.1 701.5 L975.6 703.4 L976.2 705.4 L976.7 707.3 L977.2 709.2 L977.8 711.2 L978.3 713.1 L978.9 715.0 L979.4 716.9 L980.0 718.9 L980.5 720.8 L981.1 722.7 L981.7 724.6 L982.2 726.5 L982.8 728.5 L983.3 730.4 L983.9 732.3 L984.5 734.2 L985.0 736.1 L985.6 738.1 L986.2 740.0 L986.7 741.9 L987.3 743.8 L987.8 745.7 L988.4 747.6 L989.0 749.6 L989.6 751.5 L990.1 753.4 L990.7 755.3 L991.3 757.2 L991.8 759.1 L992.4 761.1 L993.0 763.0 L993.6 764.9 L994.1 766.8 L994.7 768.7 L995.3 770.6 L995.9 772.6 L996.4 774.5 L997.0 776.4 L997.6 778.3 L998.2 780.2 L998.8 782.1 L999.4 784.0 L1000.0 785.9 L1000.6 787.8 L1001.2 789.8 L1001.8 791.7 L1002.4 793.6 L1003.0 795.5 L1003.6 797.4 L1004.2 799.3 L1004.8 801.2 L1005.4 803.1 L1006.0 805.0 L1006.6 806.9 L1007.2 808.8 L1007.9 810.7 L1008.5 812.6 L1009.1 814.5 L1009.7 816.4 L1010.4 818.3 L1011.0 820.2 L1011.6 822.1 L1012.3 824.0 L1012.9 825.9 L1013.5 827.8 L1014.2 829.7 L1014.8 831.6 L1015.4 833.5 L1016.1 835.4 L1016.7 837.3 L1017.3 839.2 L1018.0 841.1 L1018.6 843.0 L1019.3 844.9 L1019.9 846.8 L1020.6 848.6 L1021.2 850.5 L1021.8 852.4 L1022.5 854.3 L1023.1 856.2 L1023.8 858.1 L1024.4 860.0 L1025.1 861.9 L1025.7 863.8 L1026.4 865.7 L1027.1 867.6 L1027.7 869.4 L1028.4 871.3 L1029.0 873.2 L1029.7 875.1 L1030.3 877.0 L1031.0 878.9 L1031.6 880.8 L1032.3 882.7 L1032.9 884.6 L1033.6 886.5 L1034.3 888.3 L1034.9 890.2 L1035.6 892.1 L1036.2 894.0 L1036.9 895.9 L1037.6 897.8 L1038.2 899.7 L1038.9 901.5 L1039.6 903.4 L1040.3 905.3 L1041.0 907.2 L1041.6 909.1 L1042.3 911.0 L1043.0 912.8 L1043.7 914.7 L1044.4 916.6 L1045.1 918.5 L1045.7 920.3 L1046.4 922.2 L1047.1 924.1 L1047.8 926.0 L1048.6 927.8 L1049.3 929.7 L1050.0 931.6 L1050.7 933.4 L1051.4 935.3 L1052.2 937.2 L1052.9 939.0 L1053.7 940.9 L1054.5 942.7 L1055.2 944.5 L1056.0 946.4 L1056.8 948.2 L1057.6 950.1 L1058.4 951.9 L1059.2 953.7 L1060.0 955.5 L1060.8 957.4 L1061.7 959.2 L1062.5 961.0 L1063.2 962.9 L1064.0 964.7 L1064.8 966.6 L1065.6 968.4 L1066.4 970.3 L1067.2 972.1 L1068.0 973.9 L1068.8 975.8 L1069.7 977.5 L1070.6 979.3 L1071.5 981.1 L1072.5 982.8 L1073.6 984.5 L1074.6 986.2 L1075.7 987.9 L1076.8 989.6 L1077.9 991.2 L1079.1 992.9 L1080.2 994.5 L1081.4 996.2 L1082.5 997.8 L1083.7 999.4 L1084.9 1001.0 L1086.1 1002.6 L1087.2 1004.3 L1088.5 1005.9 L1089.7 1007.5 L1090.9 1009.0 L1092.2 1010.6 L1093.4 1012.2 L1094.7 1013.7 L1096.0 1015.2 L1097.3 1016.7 L1098.6 1018.2 L1100.0 1019.7 L1101.3 1021.1 L1102.7 1022.6 L1104.1 1024.1 L1105.5 1025.5 L1106.9 1027.0 L1108.4 1028.4 L1109.8 1029.8 L1111.3 1031.2 L1112.8 1032.5 L1114.3 1033.8 L1115.9 1035.0 L1117.4 1036.2 L1119.0 1037.4 L1120.6 1038.5 L1122.3 1039.5 L1124.0 1040.6 L1125.8 1041.6 L1127.5 1042.5 L1129.3 1043.5 L1131.1 1044.4 L1132.9 1045.3 L1134.7 1046.2 L1136.5 1047.1 L1138.3 1048.0 L1140.1 1048.9 L1141.9 1049.8 L1143.7 1050.6 L1145.5 1051.5 L1147.3 1052.3 L1149.2 1053.1 L1151.0 1053.9 L1152.8 1054.7 L1154.7 1055.5 L1156.5 1056.2 L1158.4 1057.0 L1160.2 1057.7 L1162.1 1058.4 L1164.0 1059.1 L1165.9 1059.7 L1167.8 1060.4 L1169.7 1061.0 L1171.6 1061.7 L1173.5 1062.3 L1175.4 1062.9 L1177.3 1063.5 L1179.2 1064.1 L1181.1 1064.7 L1183.0 1065.3 L1184.9 1065.9 L1186.8 1066.5 L1188.7 1067.1 L1190.7 1067.7 L1192.6 1068.2 L1194.5 1068.8 L1196.4 1069.3 L1198.3 1069.9 L1200.3 1070.4 L1202.2 1070.9 L1204.1 1071.4 L1206.1 1071.9 L1208.0 1072.4 L1210.0 1072.9 L1211.9 1073.3 L1213.9 1073.8 L1215.8 1074.2 L1217.8 1074.6 L1219.7 1075.0 L1221.7 1075.4 L1223.7 1075.7 L1225.6 1076.1 L1227.6 1076.4 L1229.6 1076.8 L1231.5 1077.1 L1233.5 1077.4 L1235.5 1077.8 L1237.5 1078.1 L1239.4 1078.5 L1241.4 1078.9 L1243.4 1079.2 L1245.3 1079.6 L1247.3 1080.0 L1249.2 1080.4 L1251.2 1080.8 L1253.2 1081.2 L1255.1 1081.6 L1257.1 1082.0 L1259.0 1082.4 L1261.0 1082.8 L1263.0 1083.2 L1264.9 1083.5 L1266.9 1083.9 L1268.9 1084.3 L1270.8 1084.7 L1272.8 1085.0 L1274.8 1085.4 L1276.7 1085.7 L1278.7 1086.1 L1280.7 1086.4 L1282.6 1086.7 L1284.6 1087.1 L1286.6 1087.4 L1288.6 1087.8 L1290.5 1088.1 L1292.5 1088.4 L1294.5 1088.8 L1296.5 1089.1 L1298.4 1089.4 L1300.4 1089.7 L1302.4 1090.1 L1304.3 1090.4 L1306.3 1090.7 L1308.3 1091.0 L1310.3 1091.3 L1312.2 1091.7 L1314.2 1092.0 L1316.2 1092.3 L1318.2 1092.6 L1320.1 1092.9 L1322.1 1093.3 L1324.1 1093.6 L1326.1 1093.9 L1328.0 1094.2 L1330.0 1094.6 L1332.0 1094.9 L1334.0 1095.2 L1335.9 1095.5 L1337.9 1095.9 L1339.9 1096.2 L1341.9 1096.5 L1343.8 1096.8 L1345.8 1097.1 L1347.8 1097.4 L1349.8 1097.8 L1351.7 1098.1 L1353.7 1098.4 L1355.7 1098.7 L1357.7 1099.0 L1359.6 1099.3 L1361.6 1099.6 L1363.6 1099.9 L1365.6 1100.2 L1367.6 1100.5 L1369.5 1100.8 L1371.5 1101.1 L1373.5 1101.4 L1375.5 1101.7 L1377.4 1102.0 L1379.4 1102.3 L1381.4 1102.5 L1383.4 1102.8 L1385.4 1103.1 L1387.3 1103.4 L1389.3 1103.6 L1391.3 1103.9 L1393.3 1104.2 L1395.3 1104.4 L1397.3 1104.7 L1399.2 1104.9 L1401.2 1105.1 L1403.2 1105.4 L1405.2 1105.6 L1407.2 1105.9 L1409.2 1106.1 L1411.1 1106.3 L1413.1 1106.6 L1415.1 1106.8 L1417.1 1107.0 L1419.1 1107.3 L1421.1 1107.5 L1423.1 1107.7 L1425.0 1107.9 L1427.0 1108.2 L1429.0 1108.4 L1431.0 1108.6 L1433.0 1108.8 L1435.0 1109.1 L1437.0 1109.3 L1439.0 1109.5 L1441.0 1109.7 L1442.9 1109.9 L1444.9 1110.1 L1446.9 1110.3 L1448.9 1110.5 L1450.9 1110.7 L1452.9 1111.0 L1454.9 1111.2 L1456.9 1111.4 L1458.9 1111.6 L1460.9 1111.8 L1462.8 1112.0 L1464.8 1112.2 L1466.8 1112.4 L1468.8 1112.6 L1470.8 1112.7 L1472.8 1112.9 L1474.8 1113.1 L1476.8 1113.3 L1478.8 1113.5 L1480.8 1113.7 L1482.8 1113.9 L1484.8 1114.1 L1486.7 1114.3 L1488.7 1114.4 L1490.7 1114.6 L1492.7 1114.8 L1494.7 1115.0 L1496.7 1115.2 L1498.7 1115.3 L1500.7 1115.5 L1502.7 1115.7 L1504.7 1115.9 L1506.7 1116.0 L1508.7 1116.2 L1510.7 1116.4 L1512.6 1116.6 L1514.6 1116.7 L1516.6 1116.9 L1518.6 1117.1 L1520.6 1117.2 L1522.6 1117.4 L1524.6 1117.6 L1526.6 1117.7 L1528.6 1117.9 L1530.6 1118.1 L1532.6 1118.2 L1534.6 1118.4 L1536.6 1118.5 L1538.6 1118.7 L1540.5 1118.9 L1542.5 1119.0 L1544.5 1119.2 L1546.5 1119.4 L1548.5 1119.5 L1550.5 1119.7 L1552.5 1119.8 L1554.5 1120.0 L1556.5 1120.2 L1558.5 1120.3 L1560.5 1120.5 L1562.5 1120.6 L1564.5 1120.8 L1566.5 1120.9 L1568.4 1121.1 L1570.4 1121.3 L1572.4 1121.4 L1574.4 1121.6 L1576.4 1121.7 L1578.4 1121.9 L1580.4 1122.0 L1582.4 1122.2 L1584.4 1122.3 L1586.4 1122.5 L1588.4 1122.6 L1590.4 1122.8 L1592.4 1123.0 L1594.4 1123.1 L1596.4 1123.3 L1598.4 1123.4 L1600.3 1123.6 L1602.3 1123.7 L1604.3 1123.9 L1606.3 1124.0 L1608.3 1124.1 L1610.3 1124.3 L1612.3 1124.4 L1614.3 1124.6 L1616.3 1124.7 L1618.3 1124.9 L1620.3 1125.0 L1622.3 1125.2 L1624.3 1125.3 L1626.3 1125.5 L1628.3 1125.6 L1630.3 1125.7 L1632.3 1125.9 L1634.3 1126.0 L1636.3 1126.2 L1638.2 1126.3 L1640.2 1126.4 L1642.2 1126.6 L1644.2 1126.7 L1646.2 1126.9 L1648.2 1127.0 L1650.2 1127.1 L1652.2 1127.3 L1654.2 1127.4 L1656.2 1127.5 L1658.2 1127.7 L1660.2 1127.8 L1662.2 1127.9 L1664.2 1128.1 L1666.2 1128.2 L1668.2 1128.3 L1670.2 1128.4 L1672.2 1128.6 L1674.2 1128.7 L1676.2 1128.8 L1678.2 1129.0 L1680.2 1129.1 L1682.2 1129.2 L1684.1 1129.3 L1686.1 1129.5 L1688.1 1129.6 L1690.1 1129.7 L1692.1 1129.8 L1694.1 1129.9 L1696.1 1130.1 L1698.1 1130.2 L1700.1 1130.3 L1702.1 1130.4 L1704.1 1130.5 L1706.1 1130.7 L1708.1 1130.8 L1710.1 1130.9 L1712.1 1131.0 L1714.1 1131.1 L1716.1 1131.2 L1718.1 1131.3 L1720.1 1131.4 L1722.1 1131.6 L1724.1 1131.7 L1726.1 1131.8 L1728.1 1131.9 L1730.1 1132.0 L1732.1 1132.1 L1734.1 1132.2 L1736.1 1132.3 L1738.1 1132.4 L1740.1 1132.5 L1742.1 1132.6 L1744.1 1132.7 L1746.1 1132.8 L1748.1 1132.9 L1750.1 1133.0 L1752.1 1133.1 L1754.1 1133.2 L1756.1 1133.3 L1758.1 1133.4 L1760.1 1133.5 L1762.1 1133.6 L1764.1 1133.7 L1765.0 1133.7"/>
<path stroke="#3cc271" d="M259.0 175.0 L261.0 175.0 L263.0 175.0 L265.0 175.1 L267.0 175.1 L269.0 175.1 L271.0 175.1 L273.0 175.2 L275.0 175.2 L277.0 175.2 L279.0 175.3 L281.0 175.3 L283.0 175.3 L285.0 175.4 L287.0 175.4 L289.0 175.4 L291.0 175.5 L293.0 175.5 L295.0 175.5 L297.0 175.6 L299.0 175.6 L301.0 175.7 L303.0 175.7 L305.0 175.7 L307.0 175.8 L309.0 175.8 L311.0 175.9 L313.0 175.9 L315.0 176.0 L317.0 176.0 L319.0 176.1 L321.0 176.1 L323.0 176.1 L325.0 176.2 L327.0 176.2 L329.0 176.3 L331.0 176.3 L333.0 176.4 L335.0 176.4 L337.0 176.5 L339.0 176.6 L341.0 176.6 L343.0 176.7 L345.0 176.7 L347.0 176.8 L349.0 176.8 L351.0 176.9 L353.0 176.9 L355.0 177.0 L357.0 177.0 L359.0 177.1 L361.0 177.2 L363.0 177.2 L365.0 177.3 L367.0 177.3 L369.0 177.4 L371.0 177.5 L373.0 177.5 L375.0 177.6 L377.0 177.6 L379.0 177.7 L381.0 177.8 L383.0 177.8 L385.0 177.9 L387.0 178.0 L389.0 178.0 L391.0 178.1 L393.0 178.1 L395.0 178.2 L397.0 178.3 L399.0 178.3 L401.0 178.4 L403.0 178.5 L405.0 178.5 L407.0 178.6 L409.0 178.7 L411.0 178.7 L413.0 178.8 L415.0 178.9 L417.0 178.9 L418.9 179.0 L420.9 179.1 L422.9 179.1 L424.9 179.2 L426.9 179.3 L428.9 179.4 L430.9 179.4 L432.9 179.5 L434.9 179.6 L436.9 179.7 L438.9 179.8 L440.9 179.8 L442.9 179.9 L444.9 180.0 L446.9 180.1 L448.9 180.2 L450.9 180.3 L452.9 180.4 L454.9 180.5 L456.9 180.5 L458.9 180.6 L460.9 180.7 L462.9 180.8 L464.9 180.9 L466.9 181.0 L468.9 181.1 L470.9 181.2 L472.9 181.3 L474.9 181.4 L476.9 181.5 L478.9 181.6 L480.9 181.8 L482.9 181.9 L484.9 182.0 L486.9 182.1 L488.9 182.2 L490.9 182.3 L492.9 182.4 L494.9 182.6 L496.9 182.7 L498.9 182.8 L500.9 182.9 L502.9 183.0 L504.8 183.2 L506.8 183.3 L508.8 183.5 L510.8 183.6 L512.8 183.7 L514.8 183.9 L516.8 184.0 L518.8 184.2 L520.8 184.3 L522.8 184.5 L524.8 184.7 L526.8 184.8 L528.8 185.0 L530.8 185.2 L532.8 185.3 L534.8 185.5 L536.8 185.7 L538.7 185.9 L540.7 186.1 L542.7 186.3 L544.7 186.5 L546.7 186.7 L548.7 186.9 L550.7 187.1 L552.7 187.3 L554.6 187.6 L556.6 187.8 L558.6 188.0 L560.6 188.3 L562.6 188.5 L564.6 188.8 L566.5 189.1 L568.5 189.3 L570.5 189.6 L572.5 189.9 L574.5 190.2 L576.5 190.5 L578.4 190.7 L580.4 191.0 L582.4 191.3 L584.4 191.6 L586.4 191.9 L588.3 192.2 L590.3 192.5 L592.3 192.8 L594.3 193.1 L596.2 193.5 L598.2 193.8 L600.2 194.1 L602.2 194.4 L604.2 194.7 L606.1 195.0 L608.1 195.3 L610.1 195.6 L612.1 195.9 L614.0 196.2 L616.0 196.5 L618.0 196.8 L620.0 197.1 L621.9 197.4 L623.9 197.8 L625.9 198.1 L627.9 198.4 L629.8 198.7 L631.8 199.1 L633.8 199.4 L635.8 199.7 L637.7 200.0 L639.7 200.4 L641.7 200.7 L643.7 201.1 L645.6 201.4 L647.6 201.8 L649.6 202.1 L651.5 202.5 L653.5 202.8 L655.5 203.2 L657.4 203.6 L659.4 203.9 L661.4 204.3 L663.3 204.7 L665.3 205.1 L667.2 205.4 L669.2 205.8 L671.2 206.2 L673.1 206.6 L675.1 207.0 L677.0 207.5 L679.0 207.9 L681.0 208.3 L682.9 208.7 L684.9 209.2 L686.8 209.6 L688.8 210.1 L690.7 210.5 L692.7 211.0 L694.6 211.5 L696.5 212.0 L698.4 212.6 L700.4 213.1 L702.3 213.7 L704.2 214.2 L706.1 214.8 L708.0 215.4 L709.9 216.0 L711.8 216.7 L713.8 217.3 L715.7 218.0 L717.6 218.6 L719.5 219.3 L721.3 220.0 L723.2 220.7 L725.1 221.5 L727.0 222.2 L728.8 223.0 L730.7 223.8 L732.5 224.5 L734.3 225.3 L736.1 226.2 L737.9 227.0 L739.7 227.8 L741.5 228.7 L743.2 229.6 L745.0 230.5 L746.7 231.5 L748.5 232.4 L750.2 233.4 L751.9 234.5 L753.7 235.5 L755.4 236.5 L757.1 237.6 L758.8 238.7 L760.5 239.8 L762.1 241.0 L763.8 242.1 L765.5 243.2 L767.1 244.4 L768.8 245.6 L770.4 246.8 L772.0 248.0 L773.6 249.1 L775.2 250.4 L776.8 251.6 L778.3 252.8 L779.9 254.0 L781.4 255.3 L783.0 256.5 L784.5 257.9 L786.0 259.2 L787.5 260.5 L789.0 261.9 L790.4 263.3 L791.9 264.7 L793.3 266.1 L794.7 267.5 L796.1 268.9 L797.5 270.3 L798.9 271.8 L800.3 273.2 L801.7 274.7 L803.0 276.1 L804.4 277.6 L805.7 279.1 L807.0 280.6 L808.3 282.1 L809.6 283.7 L810.9 285.2 L812.2 286.7 L813.5 288.3 L814.7 289.9 L816.0 291.4 L817.2 293.0 L818.4 294.6 L819.6 296.2 L820.8 297.8 L821.9 299.4 L823.1 301.1 L824.2 302.7 L825.3 304.4 L826.5 306.0 L827.6 307.7 L828.8 309.3 L829.9 310.9 L831.1 312.6 L832.3 314.2 L833.4 315.8 L834.6 317.4 L835.8 319.1 L836.9 320.7 L838.1 322.3 L839.2 324.0 L840.4 325.6 L841.5 327.3 L842.6 328.9 L843.7 330.6 L844.7 332.3 L845.7 334.0 L846.8 335.7 L847.8 337.5 L848.8 339.2 L849.7 340.9 L850.7 342.7 L851.7 344.4 L852.7 346.2 L853.6 348.0 L854.6 349.7 L855.5 351.5 L856.5 353.2 L857.4 355.0 L858.3 356.8 L859.3 358.5 L860.2 360.3 L861.1 362.1 L862.0 363.9 L862.9 365.7 L863.8 367.5 L864.8 369.2 L865.7 371.0 L866.7 372.7 L867.8 374.4 L868.8 376.1 L870.0 377.8 L871.1 379.4 L872.2 381.1 L873.2 382.8 L874.2 384.5 L875.2 386.3 L876.2 388.0 L877.2 389.8 L878.1 391.6 L879.0 393.4 L879.9 395.2 L880.7 397.0 L881.4 398.9 L882.0 400.7 L882.6 402.6 L883.0 404.6 L883.5 406.6 L884.0 408.5 L884.5 410.4 L885.2 412.3 L885.9 414.2 L886.6 416.0 L887.4 417.8 L888.2 419.7 L889.0 421.5 L889.8 423.3 L890.7 425.1 L891.6 426.9 L892.5 428.7 L893.4 430.5 L894.3 432.3 L895.2 434.1 L896.1 435.9 L897.0 437.7 L897.8 439.5 L898.7 441.3 L899.6 443.1 L900.5 444.9 L901.4 446.7 L902.4 448.5 L903.3 450.3 L904.3 452.0 L905.3 453.8 L906.2 455.6 L907.2 457.4 L908.2 459.1 L909.1 460.9 L910.0 462.7 L910.9 464.5 L911.8 466.3 L912.7 468.1 L913.5 469.9 L914.3 471.7 L915.0 473.5 L915.7 475.4 L916.4 477.2 L917.0 479.1 L917.6 481.0 L918.1 482.9 L918.7 484.8 L919.2 486.7 L919.6 488.7 L920.1 490.6 L920.5 492.6 L920.9 494.5 L921.3 496.5 L921.8 498.5 L922.2 500.5 L922.6 502.4 L923.0 504.4 L923.4 506.4 L923.8 508.3 L924.3 510.3 L924.8 512.3 L925.2 514.2 L925.8 516.1 L926.3 518.0 L926.9 519.9 L927.5 521.8 L928.2 523.7 L928.9 525.6 L929.7 527.4 L930.5 529.2 L931.3 531.1 L932.1 532.9 L932.9 534.8 L933.7 536.6 L934.5 538.4 L935.2 540.3 L936.0 542.2 L936.6 544.0 L937.3 545.9 L937.9 547.8 L938.6 549.7 L939.2 551.6 L939.8 553.5 L940.4 555.4 L941.0 557.3 L941.6 559.3 L942.2 561.2 L942.8 563.1 L943.3 565.0 L943.9 566.9 L944.5 568.8 L945.2 570.7 L945.8 572.6 L946.4 574.5 L947.1 576.4 L947.8 578.3 L948.4 580.2 L949.1 582.0 L949.9 583.9 L950.6 585.8 L951.3 587.6 L952.0 589.5 L952.7 591.4 L953.4 593.2 L954.1 595.1 L954.8 597.0 L955.5 598.9 L956.2 600.8 L956.8 602.6 L957.5 604.5 L958.1 606.4 L958.8 608.3 L959.4 610.2 L960.0 612.1 L960.7 614.0 L961.3 615.9 L962.0 617.8 L962.6 619.7 L963.2 621.6 L963.8 623.5 L964.5 625.4 L965.1 627.3 L965.7 629.2 L966.3 631.1 L966.9 633.0 L967.5 634.9 L968.1 636.8 L968.7 638.8 L969.3 640.7 L969.9 642.6 L970.5 644.5 L971.1 646.4 L971.7 648.3 L972.2 650.2 L972.8 652.2 L973.4 654.1 L973.9 656.0 L974.5 657.9 L975.0 659.8 L975.6 661.8 L976.1 663.7 L976.6 665.6 L977.2 667.5 L977.7 669.5 L978.2 671.4 L978.7 673.3 L979.2 675.3 L979.7 677.2 L980.2 679.1 L980.7 681.1 L981.1 683.0 L981.6 685.0 L982.1 686.9 L982.6 688.8 L983.0 690.8 L983.5 692.7 L984.0 694.7 L984.4 696.6 L984.9 698.6 L985.3 700.5 L985.8 702.5 L986.3 704.4 L986.7 706.4 L987.2 708.3 L987.7 710.3 L988.2 712.2 L988.6 714.1 L989.1 716.1 L989.6 718.0 L990.1 720.0 L990.6 721.9 L991.1 723.8 L991.6 725.8 L992.1 727.7 L992.6 729.7 L993.1 731.6 L993.5 733.5 L994.0 735.5 L994.5 737.4 L995.0 739.3 L995.5 741.3 L996.0 743.2 L996.5 745.2 L997.0 747.1 L997.5 749.0 L998.0 751.0 L998.5 752.9 L999.0 754.8 L999.5 756.8 L1000.0 758.7 L1000.5 760.7 L1001.0 762.6 L1001.6 764.5 L1002.1 766.5 L1002.6 768.4 L1003.1 770.3 L1003.6 772.3 L1004.1 774.2 L1004.7 776.1 L1005.2 778.0 L1005.7 780.0 L1006.2 781.9 L1006.8 783.8 L1007.3 785.8 L1007.8 787.7 L1008.4 789.6 L1008.9 791.5 L1009.5 793.5 L1010.0 795.4 L1010.6 797.3 L1011.1 799.2 L1011.7 801.1 L1012.2 803.1 L1012.8 805.0 L1013.4 806.9 L1013.9 808.8 L1014.5 810.7 L1015.1 812.6 L1015.7 814.6 L1016.2 816.5 L1016.8 818.4 L1017.4 820.3 L1018.0 822.2 L1018.6 824.1 L1019.2 826.0 L1019.8 827.9 L1020.4 829.8 L1021.1 831.7 L1021.7 833.6 L1022.3 835.5 L1022.9 837.4 L1023.6 839.3 L1024.2 841.2 L1024.9 843.1 L1025.6 845.0 L1026.2 846.9 L1026.9 848.7 L1027.7 850.6 L1028.4 852.5 L1029.1 854.3 L1029.8 856.2 L1030.6 858.1 L1031.3 859.9 L1032.0 861.8 L1032.8 863.6 L1033.5 865.5 L1034.2 867.4 L1034.9 869.2 L1035.7 871.1 L1036.3 873.0 L1037.0 874.9 L1037.7 876.8 L1038.4 878.6 L1039.0 880.5 L1039.7 882.4 L1040.3 884.3 L1041.0 886.2 L1041.7 888.1 L1042.3 890.0 L1043.0 891.9 L1043.6 893.8 L1044.3 895.6 L1044.9 897.5 L1045.6 899.4 L1046.2 901.3 L1046.9 903.2 L1047.6 905.1 L1048.3 907.0 L1049.0 908.8 L1049.6 910.7 L1050.3 912.6 L1051.0 914.5 L1051.7 916.4 L1052.4 918.2 L1053.0 920.1 L1053.7 922.0 L1054.4 923.9 L1055.1 925.8 L1055.8 927.6 L1056.5 929.5 L1057.3 931.4 L1058.0 933.2 L1058.7 935.1 L1059.5 936.9 L1060.2 938.8 L1061.0 940.6 L1061.8 942.5 L1062.6 944.3 L1063.4 946.1 L1064.2 948.0 L1065.0 949.8 L1065.9 951.6 L1066.7 953.4 L1067.6 955.2 L1068.4 957.0 L1069.3 958.8 L1070.1 960.7 L1071.0 962.5 L1071.8 964.3 L1072.7 966.1 L1073.5 967.9 L1074.4 969.7 L1075.3 971.5 L1076.2 973.3 L1077.1 975.1 L1078.0 976.8 L1079.0 978.6 L1080.0 980.3 L1081.0 982.1 L1082.0 983.8 L1083.0 985.5 L1084.1 987.2 L1085.1 988.9 L1086.2 990.6 L1087.3 992.3 L1088.5 993.9 L1089.6 995.6 L1090.8 997.2 L1092.0 998.7 L1093.2 1000.3 L1094.5 1001.9 L1095.8 1003.4 L1097.1 1004.9 L1098.4 1006.4 L1099.8 1007.9 L1101.2 1009.4 L1102.6 1010.8 L1104.0 1012.2 L1105.5 1013.6 L1106.9 1015.0 L1108.4 1016.3 L1109.9 1017.5 L1111.5 1018.8 L1113.0 1020.0 L1114.6 1021.2 L1116.3 1022.4 L1117.9 1023.5 L1119.6 1024.7 L1121.3 1025.8 L1122.9 1026.9 L1124.6 1028.0 L1126.3 1029.0 L1128.0 1030.1 L1129.7 1031.1 L1131.4 1032.2 L1133.2 1033.2 L1134.9 1034.2 L1136.6 1035.2 L1138.4 1036.1 L1140.2 1037.1 L1141.9 1038.0 L1143.7 1039.0 L1145.5 1039.8 L1147.3 1040.7 L1149.1 1041.6 L1150.9 1042.4 L1152.8 1043.2 L1154.6 1043.9 L1156.5 1044.7 L1158.3 1045.4 L1160.2 1046.1 L1162.1 1046.8 L1163.9 1047.6 L1165.8 1048.3 L1167.7 1049.0 L1169.5 1049.7 L1171.4 1050.5 L1173.3 1051.2 L1175.1 1051.9 L1177.0 1052.6 L1178.9 1053.3 L1180.7 1054.0 L1182.6 1054.7 L1184.5 1055.4 L1186.4 1056.0 L1188.3 1056.6 L1190.2 1057.2 L1192.1 1057.8 L1194.0 1058.4 L1195.9 1059.0 L1197.9 1059.5 L1199.8 1060.1 L1201.7 1060.6 L1203.6 1061.2 L1205.6 1061.7 L1207.5 1062.3 L1209.4 1062.8 L1211.3 1063.4 L1213.3 1063.9 L1215.2 1064.5 L1217.1 1065.0 L1219.0 1065.5 L1221.0 1066.0 L1222.9 1066.6 L1224.8 1067.1 L1226.8 1067.6 L1228.7 1068.1 L1230.6 1068.6 L1232.6 1069.1 L1234.5 1069.6 L1236.4 1070.1 L1238.4 1070.6 L1240.3 1071.1 L1242.3 1071.5 L1244.2 1072.0 L1246.2 1072.4 L1248.1 1072.9 L1250.1 1073.3 L1252.0 1073.8 L1254.0 1074.2 L1255.9 1074.6 L1257.9 1075.1 L1259.8 1075.5 L1261.8 1075.9 L1263.8 1076.3 L1265.7 1076.7 L1267.7 1077.1 L1269.6 1077.4 L1271.6 1077.8 L1273.6 1078.2 L1275.5 1078.5 L1277.5 1078.9 L1279.5 1079.2 L1281.5 1079.6 L1283.4 1079.9 L1285.4 1080.2 L1287.4 1080.6 L1289.3 1080.9 L1291.3 1081.2 L1293.3 1081.5 L1295.3 1081.9 L1297.2 1082.2 L1299.2 1082.5 L1301.2 1082.8 L1303.2 1083.1 L1305.1 1083.4 L1307.1 1083.7 L1309.1 1084.1 L1311.1 1084.4 L1313.0 1084.7 L1315.0 1085.0 L1317.0 1085.3 L1319.0 1085.6 L1320.9 1085.9 L1322.9 1086.3 L1324.9 1086.6 L1326.9 1086.9 L1328.9 1087.2 L1330.8 1087.5 L1332.8 1087.8 L1334.8 1088.1 L1336.8 1088.4 L1338.7 1088.8 L1340.7 1089.1 L1342.7 1089.4 L1344.7 1089.7 L1346.6 1090.0 L1348.6 1090.3 L1350.6 1090.6 L1352.6 1090.9 L1354.5 1091.2 L1356.5 1091.5 L1358.5 1091.8 L1360.5 1092.1 L1362.5 1092.4 L1364.4 1092.7 L1366.4 1093.0 L1368.4 1093.3 L1370.4 1093.6 L1372.4 1093.8 L1374.3 1094.1 L1376.3 1094.4 L1378.3 1094.7 L1380.3 1095.0 L1382.3 1095.3 L1384.2 1095.5 L1386.2 1095.8 L1388.2 1096.1 L1390.2 1096.3 L1392.2 1096.6 L1394.1 1096.9 L1396.1 1097.1 L1398.1 1097.4 L1400.1 1097.6 L1402.1 1097.9 L1404.1 1098.1 L1406.0 1098.4 L1408.0 1098.6 L1410.0 1098.9 L1412.0 1099.1 L1414.0 1099.3 L1416.0 1099.6 L1418.0 1099.8 L1419.9 1100.1 L1421.9 1100.3 L1423.9 1100.6 L1425.9 1100.8 L1427.9 1101.0 L1429.9 1101.3 L1431.9 1101.5 L1433.8 1101.8 L1435.8 1102.0 L1437.8 1102.2 L1439.8 1102.5 L1441.8 1102.7 L1443.8 1102.9 L1445.8 1103.2 L1447.7 1103.4 L1449.7 1103.6 L1451.7 1103.8 L1453.7 1104.1 L1455.7 1104.3 L1457.7 1104.5 L1459.7 1104.7 L1461.7 1104.9 L1463.7 1105.2 L1465.6 1105.4 L1467.6 1105.6 L1469.6 1105.8 L1471.6 1106.0 L1473.6 1106.2 L1475.6 1106.4 L1477.6 1106.6 L1479.6 1106.9 L1481.6 1107.1 L1483.6 1107.3 L1485.5 1107.5 L1487.5 1107.7 L1489.5 1107.9 L1491.5 1108.0 L1493.5 1108.2 L1495.5 1108.4 L1497.5 1108.6 L1499.5 1108.8 L1501.5 1109.0 L1503.5 1109.2 L1505.5 1109.3 L1507.4 1109.5 L1509.4 1109.7 L1511.4 1109.9 L1513.4 1110.0 L1515.4 1110.2 L1517.4 1110.4 L1519.4 1110.5 L1521.4 1110.7 L1523.4 1110.9 L1525.4 1111.0 L1527.4 1111.2 L1529.4 1111.3 L1531.4 1111.5 L1533.3 1111.7 L1535.3 1111.8 L1537.3 1112.0 L1539.3 1112.1 L1541.3 1112.3 L1543.3 1112.4 L1545.3 1112.6 L1547.3 1112.7 L1549.3 1112.9 L1551.3 1113.0 L1553.3 1113.2 L1555.3 1113.3 L1557.3 1113.5 L1559.3 1113.6 L1561.2 1113.8 L1563.2 1114.0 L1565.2 1114.1 L1567.2 1114.2 L1569.2 1114.4 L1571.2 1114.5 L1573.2 1114.7 L1575.2 1114.8 L1577.2 1115.0 L1579.2 1115.1 L1581.2 1115.3 L1583.2 1115.4 L1585.2 1115.6 L1587.2 1115.7 L1589.2 1115.9 L1591.2 1116.0 L1593.1 1116.1 L1595.1 1116.3 L1597.1 1116.4 L1599.1 1116.6 L1601.1 1116.7 L1603.1 1116.9 L1605.1 1117.0 L1607.1 1117.1 L1609.1 1117.3 L1611.1 1117.4 L1613.1 1117.5 L1615.1 1117.7 L1617.1 1117.8 L1619.1 1117.9 L1621.1 1118.1 L1623.1 1118.2 L1625.1 1118.3 L1627.1 1118.5 L1629.1 1118.6 L1631.1 1118.7 L1633.0 1118.9 L1635.0 1119.0 L1637.0 1119.1 L1639.0 1119.3 L1641.0 1119.4 L1643.0 1119.5 L1645.0 1119.6 L1647.0 1119.8 L1649.0 1119.9 L1651.0 1120.0 L1653.0 1120.1 L1655.0 1120.2 L1657.0 1120.4 L1659.0 1120.5 L1661.0 1120.6 L1663.0 1120.7 L1665.0 1120.8 L1667.0 1120.9 L1669.0 1121.1 L1671.0 1121.2 L1673.0 1121.3 L1675.0 1121.4 L1677.0 1121.5 L1679.0 1121.6 L1681.0 1121.7 L1683.0 1121.8 L1685.0 1121.9 L1687.0 1122.0 L1689.0 1122.1 L1691.0 1122.2 L1693.0 1122.3 L1695.0 1122.4 L1697.0 1122.5 L1699.0 1122.6 L1701.0 1122.7 L1703.0 1122.8 L1705.0 1122.9 L1706.9 1123.0 L1708.9 1123.1 L1710.9 1123.2 L1712.9 1123.3 L1714.9 1123.4 L1716.9 1123.5 L1718.9 1123.6 L1720.9 1123.6 L1722.9 1123.7 L1724.9 1123.8 L1726.9 1123.9 L1728.9 1124.0 L1730.9 1124.1 L1732.9 1124.1 L1734.9 1124.2 L1736.9 1124.3 L1738.9 1124.4 L1740.9 1124.4 L1742.9 1124.5 L1744.9 1124.6 L1746.9 1124.6 L1748.9 1124.7 L1750.9 1124.8 L1752.9 1124.8 L1755.0 1124.9 L1757.0 1125.0 L1759.0 1125.0 L1761.0 1125.1 L1763.0 1125.1 L1765.0 1125.2 L1765.0 1125.2"/>
<path stroke="#65659a" d="M259.0 174.5 L261.0 174.5 L263.0 174.5 L265.0 174.6 L267.0 174.6 L269.0 174.6 L271.0 174.6 L273.0 174.6 L275.0 174.6 L277.0 174.7 L279.0 174.7 L281.0 174.7 L283.0 174.7 L285.0 174.7 L287.0 174.8 L289.0 174.8 L291.0 174.8 L293.0 174.8 L295.0 174.9 L297.0 174.9 L299.0 174.9 L301.0 174.9 L303.0 174.9 L305.0 175.0 L307.0 175.0 L309.0 175.0 L311.0 175.0 L313.0 175.1 L315.0 175.1 L317.0 175.1 L319.0 175.1 L321.0 175.2 L323.0 175.2 L325.0 175.2 L327.0 175.2 L329.0 175.3 L331.0 175.3 L333.0 175.3 L335.0 175.3 L337.0 175.4 L339.0 175.4 L341.0 175.4 L343.0 175.5 L345.0 175.5 L347.0 175.5 L349.0 175.5 L351.0 175.6 L353.0 175.6 L355.0 175.6 L357.0 175.6 L359.0 175.7 L361.0 175.7 L363.0 175.7 L365.0 175.8 L367.0 175.8 L369.0 175.8 L371.0 175.9 L373.0 175.9 L375.0 175.9 L377.0 175.9 L379.0 176.0 L381.0 176.0 L383.0 176.0 L385.0 176.1 L387.0 176.1 L389.0 176.1 L391.0 176.2 L393.0 176.2 L395.0 176.2 L397.0 176.2 L399.0 176.3 L401.0 176.3 L403.0 176.3 L405.0 176.4 L407.0 176.4 L409.0 176.4 L411.0 176.5 L413.0 176.5 L415.0 176.5 L417.0 176.6 L419.0 176.6 L421.0 176.6 L423.0 176.7 L425.0 176.7 L427.0 176.7 L429.0 176.8 L431.0 176.8 L433.0 176.8 L435.0 176.9 L437.0 176.9 L439.0 176.9 L441.0 177.0 L443.0 177.0 L445.0 177.0 L447.0 177.1 L449.0 177.1 L451.0 177.2 L453.0 177.2 L455.0 177.2 L457.0 177.3 L459.0 177.3 L461.0 177.3 L463.0 177.4 L465.0 177.4 L467.0 177.5 L469.0 177.5 L471.0 177.6 L473.0 177.6 L475.0 177.6 L477.0 177.7 L479.0 177.7 L481.0 177.8 L483.0 177.8 L485.0 177.9 L487.0 177.9 L489.0 178.0 L491.0 178.0 L493.0 178.1 L495.0 178.1 L497.0 178.2 L499.0 178.2 L501.0 178.3 L503.0 178.3 L505.0 178.4 L507.0 178.5 L509.0 178.5 L511.0 178.6 L513.0 178.6 L515.0 178.7 L517.0 178.8 L519.0 178.8 L521.0 178.9 L523.0 179.0 L525.0 179.0 L527.0 179.1 L529.0 179.2 L531.0 179.3 L533.0 179.3 L535.0 179.4 L537.0 179.5 L539.0 179.6 L540.9 179.7 L542.9 179.8 L544.9 179.9 L546.9 180.0 L548.9 180.1 L550.9 180.2 L552.9 180.4 L554.9 180.5 L556.9 180.7 L558.9 180.8 L560.9 181.0 L562.9 181.1 L564.9 181.3 L566.9 181.5 L568.9 181.7 L570.9 181.9 L572.8 182.1 L574.8 182.2 L576.8 182.4 L578.8 182.7 L580.8 182.9 L582.8 183.1 L584.8 183.3 L586.8 183.5 L588.8 183.7 L590.8 183.9 L592.8 184.2 L594.7 184.4 L596.7 184.6 L598.7 184.8 L600.7 185.0 L602.7 185.2 L604.7 185.5 L606.7 185.7 L608.7 185.9 L610.6 186.1 L612.6 186.4 L614.6 186.6 L616.6 186.8 L618.6 187.0 L620.6 187.3 L622.6 187.5 L624.5 187.8 L626.5 188.0 L628.5 188.3 L630.5 188.5 L632.5 188.8 L634.5 189.0 L636.5 189.3 L638.4 189.5 L640.4 189.8 L642.4 190.1 L644.4 190.3 L646.4 190.6 L648.3 190.9 L650.3 191.2 L652.3 191.4 L654.3 191.7 L656.3 192.0 L658.3 192.3 L660.2 192.6 L662.2 192.9 L664.2 193.1 L666.2 193.4 L668.1 193.7 L670.1 194.0 L672.1 194.3 L674.1 194.6 L676.1 194.9 L678.0 195.2 L680.0 195.5 L682.0 195.8 L684.0 196.1 L686.0 196.4 L687.9 196.8 L689.9 197.1 L691.9 197.4 L693.8 197.8 L695.8 198.2 L697.8 198.5 L699.7 198.9 L701.7 199.4 L703.6 199.8 L705.6 200.2 L707.5 200.7 L709.4 201.2 L711.4 201.7 L713.3 202.2 L715.3 202.8 L717.2 203.3 L719.1 203.9 L721.0 204.4 L723.0 205.0 L724.9 205.6 L726.8 206.2 L728.7 206.8 L730.6 207.4 L732.5 208.1 L734.4 208.7 L736.3 209.4 L738.2 210.0 L740.0 210.7 L741.9 211.3 L743.8 212.0 L745.7 212.7 L747.6 213.4 L749.4 214.1 L751.3 214.9 L753.2 215.6 L755.0 216.4 L756.9 217.1 L758.7 217.9 L760.6 218.7 L762.4 219.5 L764.3 220.4 L766.1 221.2 L767.9 222.1 L769.7 222.9 L771.5 223.8 L773.3 224.7 L775.0 225.6 L776.8 226.5 L778.5 227.5 L780.2 228.5 L782.0 229.5 L783.6 230.5 L785.3 231.6 L787.0 232.8 L788.6 233.9 L790.3 235.1 L791.9 236.2 L793.5 237.4 L795.2 238.6 L796.8 239.8 L798.3 241.0 L799.9 242.2 L801.5 243.5 L803.1 244.7 L804.6 246.0 L806.1 247.3 L807.7 248.6 L809.2 249.9 L810.7 251.2 L812.2 252.5 L813.7 253.9 L815.2 255.2 L816.6 256.5 L818.1 257.9 L819.6 259.3 L821.1 260.6 L822.5 262.0 L824.0 263.4 L825.4 264.8 L826.9 266.2 L828.3 267.6 L829.7 269.1 L831.0 270.5 L832.4 272.0 L833.7 273.5 L834.9 275.0 L836.2 276.6 L837.4 278.1 L838.6 279.7 L839.7 281.3 L840.9 283.0 L842.0 284.6 L843.2 286.3 L844.3 288.0 L845.4 289.6 L846.5 291.3 L847.5 293.0 L848.6 294.7 L849.7 296.4 L850.8 298.1 L851.8 299.8 L852.9 301.5 L854.0 303.2 L855.0 304.9 L856.0 306.6 L857.1 308.3 L858.1 310.1 L859.1 311.8 L860.1 313.5 L861.1 315.2 L862.1 317.0 L863.1 318.7 L864.2 320.4 L865.2 322.1 L866.2 323.8 L867.3 325.5 L868.3 327.2 L869.4 329.0 L870.4 330.7 L871.4 332.4 L872.3 334.2 L873.2 336.0 L874.1 337.8 L874.9 339.6 L875.8 341.4 L876.6 343.2 L877.5 345.0 L878.3 346.8 L879.2 348.6 L880.1 350.4 L881.1 352.2 L882.0 353.9 L883.0 355.7 L884.0 357.4 L884.9 359.2 L885.9 360.9 L886.8 362.7 L887.7 364.5 L888.6 366.3 L889.5 368.1 L890.4 369.9 L891.2 371.7 L892.0 373.5 L892.9 375.3 L893.7 377.1 L894.6 378.9 L895.4 380.8 L896.3 382.6 L897.2 384.4 L898.1 386.1 L899.0 387.9 L899.9 389.7 L900.8 391.5 L901.7 393.3 L902.6 395.1 L903.4 396.9 L904.2 398.7 L904.9 400.6 L905.6 402.5 L906.2 404.4 L906.8 406.3 L907.4 408.2 L908.0 410.1 L908.8 411.9 L909.6 413.8 L910.4 415.6 L911.3 417.4 L912.2 419.1 L913.2 420.9 L914.1 422.7 L915.1 424.5 L916.1 426.2 L917.0 428.0 L918.0 429.8 L918.9 431.5 L919.8 433.3 L920.6 435.1 L921.4 437.0 L922.2 438.8 L922.9 440.7 L923.5 442.5 L924.2 444.4 L924.8 446.3 L925.4 448.2 L925.9 450.1 L926.5 452.0 L927.1 454.0 L927.6 455.9 L928.1 457.8 L928.6 459.8 L929.2 461.7 L929.7 463.7 L930.2 465.6 L930.8 467.5 L931.3 469.5 L931.9 471.4 L932.5 473.3 L933.0 475.2 L933.7 477.1 L934.3 479.0 L935.0 480.9 L935.7 482.8 L936.4 484.6 L937.1 486.5 L937.8 488.4 L938.6 490.2 L939.3 492.1 L940.1 493.9 L940.9 495.8 L941.6 497.6 L942.4 499.5 L943.2 501.3 L943.9 503.2 L944.7 505.0 L945.4 506.9 L946.2 508.7 L946.9 510.6 L947.6 512.5 L948.3 514.4 L948.9 516.2 L949.6 518.1 L950.2 520.0 L950.9 521.9 L951.5 523.8 L952.1 525.7 L952.7 527.6 L953.3 529.5 L953.9 531.4 L954.5 533.3 L955.1 535.2 L955.7 537.2 L956.3 539.1 L956.9 541.0 L957.5 542.9 L958.1 544.8 L958.7 546.7 L959.3 548.6 L959.8 550.6 L960.4 552.5 L960.9 554.4 L961.5 556.3 L962.1 558.2 L962.6 560.2 L963.2 562.1 L963.7 564.0 L964.3 565.9 L964.9 567.8 L965.5 569.7 L966.1 571.7 L966.7 573.5 L967.3 575.4 L968.0 577.3 L968.7 579.2 L969.4 581.1 L970.1 582.9 L970.9 584.8 L971.6 586.6 L972.4 588.5 L973.2 590.3 L973.9 592.2 L974.7 594.1 L975.4 595.9 L976.1 597.8 L976.8 599.7 L977.5 601.6 L978.1 603.4 L978.8 605.3 L979.5 607.2 L980.1 609.1 L980.8 611.0 L981.4 612.9 L982.1 614.8 L982.7 616.7 L983.4 618.5 L984.0 620.4 L984.7 622.3 L985.3 624.2 L986.0 626.1 L986.6 628.0 L987.2 629.9 L987.8 631.8 L988.5 633.7 L989.1 635.7 L989.7 637.6 L990.3 639.5 L990.9 641.4 L991.5 643.3 L992.1 645.2 L992.6 647.1 L993.2 649.0 L993.8 651.0 L994.4 652.9 L994.9 654.8 L995.5 656.7 L996.0 658.6 L996.6 660.6 L997.1 662.5 L997.6 664.4 L998.1 666.3 L998.6 668.3 L999.1 670.2 L999.6 672.1 L1000.1 674.1 L1000.6 676.0 L1001.0 678.0 L1001.5 679.9 L1001.9 681.9 L1002.4 683.8 L1002.8 685.8 L1003.2 687.7 L1003.7 689.7 L1004.1 691.6 L1004.5 693.6 L1005.0 695.5 L1005.4 697.5 L1005.8 699.4 L1006.3 701.4 L1006.7 703.4 L1007.1 705.3 L1007.6 707.3 L1008.0 709.2 L1008.5 711.2 L1008.9 713.1 L1009.4 715.1 L1009.9 717.0 L1010.3 718.9 L1010.8 720.9 L1011.3 722.8 L1011.8 724.7 L1012.3 726.7 L1012.8 728.6 L1013.3 730.6 L1013.8 732.5 L1014.4 734.4 L1014.9 736.3 L1015.4 738.3 L1015.9 740.2 L1016.4 742.1 L1017.0 744.1 L1017.5 746.0 L1018.0 747.9 L1018.6 749.8 L1019.1 751.8 L1019.7 753.7 L1020.2 755.6 L1020.7 757.5 L1021.3 759.5 L1021.8 761.4 L1022.4 763.3 L1022.9 765.2 L1023.5 767.2 L1024.0 769.1 L1024.6 771.0 L1025.1 772.9 L1025.7 774.9 L1026.2 776.8 L1026.8 778.7 L1027.3 780.6 L1027.9 782.6 L1028.4 784.5 L1029.0 786.4 L1029.5 788.3 L1030.1 790.3 L1030.6 792.2 L1031.2 794.1 L1031.7 796.0 L1032.2 798.0 L1032.8 799.9 L1033.3 801.8 L1033.8 803.7 L1034.4 805.7 L1034.9 807.6 L1035.4 809.5 L1036.0 811.5 L1036.5 813.4 L1037.0 815.3 L1037.6 817.2 L1038.1 819.2 L1038.6 821.1 L1039.2 823.0 L1039.7 824.9 L1040.3 826.9 L1040.8 828.8 L1041.4 830.7 L1042.0 832.6 L1042.5 834.5 L1043.1 836.5 L1043.7 838.4 L1044.3 840.3 L1044.9 842.2 L1045.5 844.1 L1046.1 846.0 L1046.7 847.9 L1047.4 849.8 L1048.0 851.7 L1048.7 853.6 L1049.3 855.5 L1050.0 857.3 L1050.6 859.2 L1051.3 861.1 L1052.0 863.0 L1052.6 864.9 L1053.3 866.8 L1054.0 868.7 L1054.6 870.6 L1055.3 872.5 L1055.9 874.4 L1056.5 876.3 L1057.1 878.2 L1057.8 880.1 L1058.4 882.0 L1059.0 883.9 L1059.6 885.8 L1060.2 887.7 L1060.8 889.6 L1061.5 891.5 L1062.1 893.4 L1062.7 895.3 L1063.3 897.2 L1063.9 899.1 L1064.6 901.0 L1065.2 902.9 L1065.9 904.8 L1066.5 906.6 L1067.2 908.5 L1067.9 910.4 L1068.5 912.3 L1069.2 914.2 L1069.9 916.1 L1070.5 918.0 L1071.2 919.8 L1071.9 921.7 L1072.6 923.6 L1073.3 925.5 L1074.0 927.4 L1074.7 929.2 L1075.4 931.1 L1076.1 933.0 L1076.9 934.8 L1077.6 936.7 L1078.3 938.5 L1079.1 940.4 L1079.9 942.2 L1080.7 944.1 L1081.5 945.9 L1082.3 947.7 L1083.1 949.5 L1083.9 951.4 L1084.7 953.2 L1085.5 955.0 L1086.4 956.8 L1087.2 958.7 L1088.0 960.5 L1088.8 962.3 L1089.6 964.2 L1090.4 966.0 L1091.2 967.9 L1092.0 969.7 L1092.8 971.5 L1093.7 973.4 L1094.5 975.2 L1095.4 976.9 L1096.3 978.7 L1097.3 980.4 L1098.3 982.1 L1099.4 983.8 L1100.5 985.5 L1101.6 987.2 L1102.7 988.8 L1103.9 990.5 L1105.1 992.1 L1106.3 993.7 L1107.5 995.3 L1108.8 996.9 L1110.0 998.4 L1111.3 999.9 L1112.6 1001.4 L1113.9 1002.9 L1115.3 1004.4 L1116.7 1005.9 L1118.1 1007.3 L1119.5 1008.7 L1121.0 1010.1 L1122.4 1011.5 L1123.9 1012.8 L1125.4 1014.1 L1127.0 1015.3 L1128.5 1016.6 L1130.1 1017.9 L1131.7 1019.1 L1133.3 1020.3 L1134.9 1021.5 L1136.5 1022.7 L1138.2 1023.8 L1139.9 1024.9 L1141.6 1026.0 L1143.3 1027.0 L1145.0 1028.0 L1146.7 1029.0 L1148.5 1029.9 L1150.3 1030.8 L1152.1 1031.7 L1153.9 1032.5 L1155.7 1033.3 L1157.6 1034.1 L1159.4 1034.9 L1161.3 1035.6 L1163.2 1036.4 L1165.0 1037.1 L1166.9 1037.8 L1168.7 1038.5 L1170.6 1039.2 L1172.5 1039.8 L1174.4 1040.5 L1176.3 1041.1 L1178.2 1041.7 L1180.1 1042.3 L1182.0 1042.9 L1184.0 1043.5 L1185.9 1044.1 L1187.8 1044.7 L1189.7 1045.3 L1191.6 1045.9 L1193.5 1046.5 L1195.4 1047.1 L1197.3 1047.7 L1199.2 1048.3 L1201.1 1048.9 L1203.1 1049.5 L1205.0 1050.0 L1206.9 1050.6 L1208.8 1051.2 L1210.7 1051.8 L1212.6 1052.4 L1214.5 1053.0 L1216.4 1053.6 L1218.4 1054.1 L1220.3 1054.7 L1222.2 1055.2 L1224.1 1055.7 L1226.1 1056.2 L1228.0 1056.7 L1230.0 1057.2 L1231.9 1057.6 L1233.9 1058.1 L1235.8 1058.6 L1237.8 1059.0 L1239.7 1059.4 L1241.7 1059.9 L1243.6 1060.3 L1245.6 1060.7 L1247.5 1061.1 L1249.5 1061.5 L1251.5 1061.9 L1253.4 1062.3 L1255.4 1062.7 L1257.3 1063.0 L1259.3 1063.4 L1261.3 1063.8 L1263.2 1064.2 L1265.2 1064.5 L1267.2 1064.9 L1269.1 1065.2 L1271.1 1065.6 L1273.1 1066.0 L1275.0 1066.3 L1277.0 1066.7 L1279.0 1067.0 L1280.9 1067.4 L1282.9 1067.7 L1284.9 1068.1 L1286.9 1068.4 L1288.8 1068.8 L1290.8 1069.1 L1292.8 1069.5 L1294.7 1069.8 L1296.7 1070.1 L1298.7 1070.4 L1300.7 1070.8 L1302.6 1071.1 L1304.6 1071.4 L1306.6 1071.7 L1308.6 1072.0 L1310.5 1072.3 L1312.5 1072.6 L1314.5 1072.9 L1316.5 1073.1 L1318.5 1073.4 L1320.4 1073.7 L1322.4 1074.0 L1324.4 1074.3 L1326.4 1074.5 L1328.4 1074.8 L1330.3 1075.1 L1332.3 1075.4 L1334.3 1075.6 L1336.3 1075.9 L1338.3 1076.2 L1340.3 1076.4 L1342.2 1076.7 L1344.2 1076.9 L1346.2 1077.2 L1348.2 1077.4 L1350.2 1077.7 L1352.2 1077.9 L1354.1 1078.2 L1356.1 1078.4 L1358.1 1078.7 L1360.1 1078.9 L1362.1 1079.2 L1364.1 1079.4 L1366.1 1079.7 L1368.1 1079.9 L1370.0 1080.1 L1372.0 1080.4 L1374.0 1080.6 L1376.0 1080.8 L1378.0 1081.0 L1380.0 1081.3 L1382.0 1081.5 L1384.0 1081.7 L1385.9 1081.9 L1387.9 1082.1 L1389.9 1082.3 L1391.9 1082.6 L1393.9 1082.8 L1395.9 1083.0 L1397.9 1083.2 L1399.9 1083.4 L1401.8 1083.6 L1403.8 1083.8 L1405.8 1084.0 L1407.8 1084.2 L1409.8 1084.4 L1411.8 1084.6 L1413.8 1084.8 L1415.8 1085.0 L1417.8 1085.2 L1419.8 1085.3 L1421.7 1085.5 L1423.7 1085.7 L1425.7 1085.9 L1427.7 1086.1 L1429.7 1086.3 L1431.7 1086.5 L1433.7 1086.6 L1435.7 1086.8 L1437.7 1087.0 L1439.7 1087.2 L1441.7 1087.4 L1443.7 1087.5 L1445.6 1087.7 L1447.6 1087.9 L1449.6 1088.1 L1451.6 1088.2 L1453.6 1088.4 L1455.6 1088.6 L1457.6 1088.8 L1459.6 1088.9 L1461.6 1089.1 L1463.6 1089.3 L1465.6 1089.4 L1467.6 1089.6 L1469.6 1089.8 L1471.6 1089.9 L1473.6 1090.1 L1475.5 1090.2 L1477.5 1090.4 L1479.5 1090.6 L1481.5 1090.7 L1483.5 1090.9 L1485.5 1091.0 L1487.5 1091.2 L1489.5 1091.3 L1491.5 1091.5 L1493.5 1091.7 L1495.5 1091.8 L1497.5 1092.0 L1499.5 1092.1 L1501.5 1092.3 L1503.5 1092.4 L1505.5 1092.6 L1507.5 1092.7 L1509.5 1092.9 L1511.4 1093.0 L1513.4 1093.2 L1515.4 1093.3 L1517.4 1093.5 L1519.4 1093.6 L1521.4 1093.7 L1523.4 1093.9 L1525.4 1094.0 L1527.4 1094.2 L1529.4 1094.3 L1531.4 1094.5 L1533.4 1094.6 L1535.4 1094.7 L1537.4 1094.9 L1539.4 1095.0 L1541.4 1095.2 L1543.4 1095.3 L1545.4 1095.5 L1547.4 1095.6 L1549.3 1095.7 L1551.3 1095.9 L1553.3 1096.0 L1555.3 1096.2 L1557.3 1096.3 L1559.3 1096.4 L1561.3 1096.6 L1563.3 1096.7 L1565.3 1096.9 L1567.3 1097.0 L1569.3 1097.1 L1571.3 1097.3 L1573.3 1097.4 L1575.3 1097.5 L1577.3 1097.7 L1579.3 1097.8 L1581.3 1098.0 L1583.3 1098.1 L1585.3 1098.2 L1587.2 1098.4 L1589.2 1098.5 L1591.2 1098.6 L1593.2 1098.8 L1595.2 1098.9 L1597.2 1099.0 L1599.2 1099.2 L1601.2 1099.3 L1603.2 1099.4 L1605.2 1099.6 L1607.2 1099.7 L1609.2 1099.8 L1611.2 1100.0 L1613.2 1100.1 L1615.2 1100.2 L1617.2 1100.3 L1619.2 1100.5 L1621.2 1100.6 L1623.2 1100.7 L1625.2 1100.9 L1627.2 1101.0 L1629.2 1101.1 L1631.2 1101.2 L1633.1 1101.4 L1635.1 1101.5 L1637.1 1101.6 L1639.1 1101.7 L1641.1 1101.9 L1643.1 1102.0 L1645.1 1102.1 L1647.1 1102.2 L1649.1 1102.4 L1651.1 1102.5 L1653.1 1102.6 L1655.1 1102.7 L1657.1 1102.9 L1659.1 1103.0 L1661.1 1103.1 L1663.1 1103.2 L1665.1 1103.3 L1667.1 1103.4 L1669.1 1103.6 L1671.1 1103.7 L1673.1 1103.8 L1675.1 1103.9 L1677.1 1104.0 L1679.1 1104.2 L1681.1 1104.3 L1683.1 1104.4 L1685.1 1104.5 L1687.1 1104.6 L1689.1 1104.7 L1691.0 1104.8 L1693.0 1104.9 L1695.0 1105.1 L1697.0 1105.2 L1699.0 1105.3 L1701.0 1105.4 L1703.0 1105.5 L1705.0 1105.6 L1707.0 1105.7 L1709.0 1105.8 L1711.0 1105.9 L1713.0 1106.0 L1715.0 1106.1 L1717.0 1106.2 L1719.0 1106.4 L1721.0 1106.5 L1723.0 1106.6 L1725.0 1106.7 L1727.0 1106.8 L1729.0 1106.9 L1731.0 1107.0 L1733.0 1107.1 L1735.0 1107.2 L1737.0 1107.3 L1739.0 1107.4 L1741.0 1107.5 L1743.0 1107.6 L1745.0 1107.7 L1747.0 1107.8 L1749.0 1107.9 L1751.0 1108.0 L1753.0 1108.0 L1755.0 1108.1 L1757.0 1108.2 L1759.0 1108.3 L1761.0 1108.4 L1763.0 1108.5 L1765.0 1108.6 L1765.0 1108.6"/>
<path stroke="#9b9b9b" d="M259.0 174.2 L261.0 174.4 L263.0 174.6 L265.0 174.8 L267.0 174.9 L269.0 175.1 L271.0 175.3 L273.0 175.4 L274.9 175.5 L276.9 175.6 L278.9 175.6 L280.9 175.7 L282.9 175.8 L284.9 175.9 L286.9 175.9 L288.9 176.0 L290.9 176.0 L292.9 176.1 L294.9 176.2 L296.9 176.2 L298.9 176.3 L300.9 176.3 L302.9 176.4 L304.9 176.4 L306.9 176.5 L308.9 176.5 L310.9 176.6 L312.9 176.6 L314.9 176.6 L316.9 176.7 L318.9 176.7 L320.9 176.8 L322.9 176.8 L324.9 176.8 L326.9 176.9 L328.9 176.9 L330.9 176.9 L332.9 177.0 L334.9 177.0 L336.9 177.0 L338.9 177.1 L340.9 177.1 L342.9 177.1 L344.9 177.1 L346.9 177.2 L348.9 177.2 L350.9 177.2 L352.9 177.3 L354.9 177.3 L356.9 177.3 L358.9 177.3 L360.9 177.4 L362.9 177.4 L364.9 177.4 L366.9 177.5 L368.9 177.5 L370.9 177.5 L372.9 177.5 L374.9 177.6 L376.9 177.6 L378.9 177.6 L380.9 177.7 L382.9 177.7 L384.9 177.7 L386.9 177.8 L388.9 177.8 L390.9 177.8 L392.9 177.9 L394.9 177.9 L396.9 177.9 L398.9 178.0 L400.9 178.0 L402.9 178.1 L404.9 178.1 L406.9 178.2 L408.9 178.2 L410.9 178.2 L412.9 178.3 L414.9 178.3 L416.9 178.4 L418.9 178.4 L420.9 178.5 L422.9 178.6 L424.9 178.6 L426.9 178.7 L428.9 178.7 L430.9 178.8 L432.9 178.8 L434.9 178.9 L436.9 178.9 L438.9 179.0 L440.9 179.0 L442.9 179.1 L444.9 179.1 L446.9 179.2 L448.9 179.3 L450.9 179.3 L452.9 179.4 L454.9 179.4 L456.9 179.5 L458.9 179.6 L460.9 179.6 L462.9 179.7 L464.9 179.8 L466.9 179.8 L468.9 179.9 L470.9 180.0 L472.9 180.0 L474.9 180.1 L476.9 180.2 L478.9 180.2 L480.9 180.3 L482.9 180.4 L484.9 180.4 L486.9 180.5 L488.9 180.6 L490.9 180.7 L492.9 180.8 L494.9 180.8 L496.9 180.9 L498.9 181.0 L500.9 181.1 L502.9 181.2 L504.9 181.3 L506.9 181.3 L508.9 181.4 L510.9 181.5 L512.9 181.6 L514.9 181.7 L516.9 181.8 L518.9 181.9 L520.9 182.0 L522.9 182.1 L524.9 182.3 L526.8 182.4 L528.8 182.5 L530.8 182.6 L532.8 182.7 L534.8 182.8 L536.8 183.0 L538.8 183.1 L540.8 183.2 L542.8 183.4 L544.8 183.5 L546.8 183.6 L548.8 183.8 L550.8 183.9 L552.8 184.1 L554.8 184.3 L556.8 184.4 L558.8 184.6 L560.7 184.8 L562.7 185.0 L564.7 185.2 L566.7 185.4 L568.7 185.6 L570.7 185.8 L572.7 186.0 L574.7 186.2 L576.7 186.4 L578.7 186.6 L580.7 186.8 L582.6 187.0 L584.6 187.2 L586.6 187.5 L588.6 187.7 L590.6 187.9 L592.6 188.1 L594.6 188.4 L596.6 188.6 L598.5 188.8 L600.5 189.0 L602.5 189.2 L604.5 189.4 L606.5 189.7 L608.5 189.9 L610.5 190.1 L612.5 190.3 L614.5 190.5 L616.4 190.8 L618.4 191.0 L620.4 191.2 L622.4 191.4 L624.4 191.6 L626.4 191.9 L628.4 192.1 L630.4 192.3 L632.3 192.5 L634.3 192.8 L636.3 193.0 L638.3 193.2 L640.3 193.5 L642.3 193.7 L644.3 193.9 L646.2 194.2 L648.2 194.4 L650.2 194.7 L652.2 194.9 L654.2 195.2 L656.2 195.4 L658.2 195.7 L660.1 195.9 L662.1 196.2 L664.1 196.4 L666.1 196.7 L668.1 196.9 L670.1 197.2 L672.0 197.5 L674.0 197.7 L676.0 198.0 L678.0 198.3 L680.0 198.5 L682.0 198.8 L683.9 199.1 L685.9 199.4 L687.9 199.7 L689.9 200.0 L691.9 200.3 L693.8 200.6 L695.8 200.9 L697.8 201.3 L699.7 201.6 L701.7 202.0 L703.6 202.4 L705.6 202.8 L707.5 203.3 L709.5 203.7 L711.4 204.2 L713.4 204.6 L715.3 205.1 L717.3 205.6 L719.2 206.1 L721.2 206.7 L723.1 207.2 L725.0 207.7 L727.0 208.3 L728.9 208.9 L730.8 209.4 L732.7 210.0 L734.6 210.6 L736.5 211.2 L738.4 211.8 L740.3 212.4 L742.2 213.1 L744.1 213.7 L746.0 214.4 L747.8 215.0 L749.7 215.7 L751.6 216.5 L753.5 217.2 L755.3 217.9 L757.2 218.7 L759.0 219.4 L760.9 220.2 L762.7 221.0 L764.6 221.8 L766.4 222.6 L768.3 223.4 L770.1 224.2 L771.9 225.1 L773.7 225.9 L775.5 226.7 L777.3 227.6 L779.1 228.4 L780.9 229.3 L782.7 230.2 L784.5 231.1 L786.3 232.0 L788.1 233.0 L789.8 233.9 L791.6 234.9 L793.3 235.9 L795.0 236.9 L796.7 238.0 L798.4 239.1 L800.1 240.2 L801.7 241.3 L803.3 242.4 L805.0 243.6 L806.6 244.8 L808.2 246.1 L809.7 247.3 L811.3 248.6 L812.9 249.8 L814.4 251.1 L815.9 252.4 L817.4 253.7 L818.9 255.0 L820.4 256.3 L821.9 257.7 L823.4 259.0 L824.9 260.4 L826.4 261.7 L827.8 263.1 L829.3 264.5 L830.7 266.0 L832.1 267.4 L833.5 268.9 L834.8 270.3 L836.1 271.8 L837.4 273.3 L838.6 274.8 L839.9 276.4 L841.1 278.0 L842.3 279.6 L843.5 281.2 L844.6 282.8 L845.8 284.5 L846.9 286.1 L848.0 287.8 L849.2 289.5 L850.3 291.1 L851.4 292.8 L852.5 294.5 L853.5 296.2 L854.6 297.9 L855.7 299.6 L856.8 301.3 L857.9 302.9 L858.9 304.6 L859.9 306.4 L861.0 308.1 L862.0 309.8 L863.0 311.5 L864.0 313.2 L865.0 315.0 L866.1 316.7 L867.1 318.4 L868.1 320.1 L869.2 321.8 L870.2 323.5 L871.3 325.2 L872.4 326.9 L873.4 328.6 L874.3 330.4 L875.2 332.2 L876.1 334.0 L876.9 335.8 L877.6 337.6 L878.4 339.5 L879.2 341.4 L879.9 343.2 L880.7 345.1 L881.5 346.9 L882.4 348.7 L883.2 350.5 L884.2 352.3 L885.1 354.0 L886.1 355.8 L887.1 357.5 L888.1 359.2 L889.1 361.0 L890.1 362.7 L891.1 364.4 L892.1 366.2 L893.0 367.9 L894.0 369.7 L895.0 371.4 L896.0 373.2 L897.0 374.9 L897.9 376.6 L898.9 378.4 L899.9 380.1 L900.9 381.9 L901.9 383.6 L903.0 385.3 L904.0 387.0 L905.1 388.7 L906.1 390.4 L907.2 392.1 L908.2 393.9 L909.2 395.6 L910.2 397.3 L911.1 399.1 L911.9 400.9 L912.7 402.7 L913.4 404.6 L914.1 406.5 L914.8 408.4 L915.6 410.2 L916.4 412.0 L917.2 413.9 L918.1 415.7 L918.9 417.5 L919.8 419.3 L920.7 421.1 L921.6 422.9 L922.5 424.7 L923.4 426.5 L924.2 428.3 L925.1 430.1 L926.0 431.9 L926.8 433.7 L927.6 435.5 L928.4 437.4 L929.1 439.2 L929.9 441.1 L930.6 442.9 L931.3 444.8 L932.0 446.7 L932.7 448.5 L933.3 450.4 L934.0 452.3 L934.7 454.2 L935.3 456.1 L936.0 458.0 L936.6 459.9 L937.2 461.8 L937.8 463.7 L938.4 465.6 L939.0 467.5 L939.6 469.4 L940.2 471.4 L940.8 473.3 L941.4 475.2 L941.9 477.1 L942.5 479.0 L943.0 481.0 L943.5 482.9 L944.0 484.8 L944.5 486.8 L945.0 488.7 L945.4 490.7 L945.9 492.6 L946.3 494.6 L946.8 496.5 L947.2 498.5 L947.7 500.4 L948.2 502.4 L948.6 504.3 L949.1 506.3 L949.6 508.2 L950.1 510.1 L950.6 512.0 L951.2 514.0 L951.8 515.9 L952.4 517.8 L953.0 519.7 L953.7 521.6 L954.3 523.4 L955.0 525.3 L955.7 527.2 L956.4 529.1 L957.2 530.9 L957.9 532.8 L958.6 534.7 L959.3 536.5 L960.0 538.4 L960.6 540.3 L961.3 542.2 L961.9 544.1 L962.5 546.0 L963.1 547.9 L963.7 549.8 L964.3 551.7 L964.9 553.7 L965.4 555.6 L966.0 557.5 L966.6 559.4 L967.1 561.3 L967.7 563.3 L968.3 565.2 L968.9 567.1 L969.5 569.0 L970.1 570.9 L970.7 572.8 L971.3 574.7 L971.9 576.6 L972.6 578.5 L973.3 580.3 L974.0 582.2 L974.7 584.1 L975.5 586.0 L976.2 587.8 L976.9 589.7 L977.6 591.5 L978.4 593.4 L979.1 595.3 L979.8 597.2 L980.5 599.0 L981.1 600.9 L981.8 602.8 L982.4 604.7 L983.1 606.6 L983.7 608.5 L984.4 610.4 L985.1 612.3 L985.7 614.1 L986.3 616.0 L987.0 617.9 L987.6 619.8 L988.3 621.7 L988.9 623.6 L989.5 625.5 L990.2 627.4 L990.8 629.3 L991.4 631.2 L992.0 633.1 L992.7 635.1 L993.3 637.0 L993.9 638.9 L994.5 640.8 L995.1 642.7 L995.6 644.6 L996.2 646.5 L996.8 648.4 L997.4 650.4 L997.9 652.3 L998.5 654.2 L999.0 656.1 L999.6 658.0 L1000.1 660.0 L1000.6 661.9 L1001.2 663.8 L1001.7 665.7 L1002.2 667.7 L1002.7 669.6 L1003.1 671.5 L1003.6 673.5 L1004.1 675.4 L1004.5 677.4 L1005.0 679.3 L1005.4 681.3 L1005.8 683.2 L1006.3 685.2 L1006.7 687.1 L1007.1 689.1 L1007.5 691.1 L1007.9 693.0 L1008.3 695.0 L1008.8 696.9 L1009.2 698.9 L1009.6 700.9 L1010.0 702.8 L1010.5 704.8 L1010.9 706.7 L1011.3 708.7 L1011.8 710.6 L1012.2 712.6 L1012.7 714.5 L1013.1 716.5 L1013.6 718.4 L1014.1 720.3 L1014.6 722.3 L1015.1 724.2 L1015.6 726.1 L1016.1 728.1 L1016.6 730.0 L1017.1 731.9 L1017.7 733.9 L1018.2 735.8 L1018.7 737.7 L1019.3 739.6 L1019.8 741.6 L1020.3 743.5 L1020.9 745.4 L1021.4 747.3 L1022.0 749.3 L1022.6 751.2 L1023.1 753.1 L1023.7 755.0 L1024.2 756.9 L1024.8 758.9 L1025.4 760.8 L1026.0 762.7 L1026.5 764.6 L1027.1 766.5 L1027.7 768.5 L1028.2 770.4 L1028.8 772.3 L1029.4 774.2 L1029.9 776.1 L1030.5 778.1 L1031.1 780.0 L1031.6 781.9 L1032.2 783.8 L1032.8 785.7 L1033.3 787.7 L1033.9 789.6 L1034.4 791.5 L1035.0 793.4 L1035.5 795.3 L1036.1 797.3 L1036.6 799.2 L1037.1 801.1 L1037.6 803.1 L1038.2 805.0 L1038.7 806.9 L1039.2 808.9 L1039.7 810.8 L1040.2 812.7 L1040.8 814.7 L1041.3 816.6 L1041.8 818.5 L1042.3 820.5 L1042.8 822.4 L1043.4 824.3 L1043.9 826.2 L1044.5 828.2 L1045.0 830.1 L1045.6 832.0 L1046.1 833.9 L1046.7 835.8 L1047.3 837.8 L1047.9 839.7 L1048.5 841.6 L1049.1 843.5 L1049.7 845.4 L1050.4 847.2 L1051.0 849.1 L1051.7 851.0 L1052.4 852.9 L1053.1 854.7 L1053.9 856.6 L1054.6 858.5 L1055.3 860.4 L1056.0 862.2 L1056.7 864.1 L1057.4 866.0 L1058.1 867.9 L1058.8 869.7 L1059.5 871.6 L1060.1 873.5 L1060.7 875.4 L1061.4 877.3 L1062.0 879.2 L1062.6 881.1 L1063.2 883.0 L1063.8 884.9 L1064.4 886.8 L1065.0 888.7 L1065.6 890.7 L1066.2 892.6 L1066.8 894.5 L1067.4 896.4 L1068.0 898.3 L1068.6 900.2 L1069.3 902.1 L1069.9 904.0 L1070.6 905.9 L1071.2 907.7 L1071.9 909.6 L1072.6 911.5 L1073.3 913.4 L1073.9 915.3 L1074.6 917.1 L1075.3 919.0 L1076.0 920.9 L1076.7 922.8 L1077.5 924.6 L1078.2 926.5 L1078.9 928.4 L1079.6 930.2 L1080.4 932.1 L1081.1 934.0 L1081.8 935.8 L1082.6 937.7 L1083.3 939.5 L1084.1 941.4 L1084.9 943.2 L1085.7 945.0 L1086.4 946.9 L1087.2 948.7 L1088.0 950.6 L1088.8 952.4 L1089.6 954.2 L1090.5 956.0 L1091.3 957.9 L1092.1 959.7 L1092.9 961.5 L1093.7 963.4 L1094.4 965.2 L1095.2 967.1 L1096.0 969.0 L1096.8 970.8 L1097.6 972.6 L1098.4 974.4 L1099.3 976.2 L1100.2 978.0 L1101.1 979.7 L1102.1 981.5 L1103.1 983.2 L1104.2 984.9 L1105.3 986.6 L1106.4 988.2 L1107.6 989.9 L1108.8 991.5 L1110.0 993.1 L1111.2 994.7 L1112.5 996.3 L1113.7 997.8 L1115.0 999.3 L1116.3 1000.8 L1117.6 1002.3 L1119.0 1003.8 L1120.4 1005.2 L1121.8 1006.6 L1123.3 1008.0 L1124.7 1009.4 L1126.2 1010.8 L1127.7 1012.1 L1129.2 1013.4 L1130.7 1014.7 L1132.3 1016.0 L1133.8 1017.3 L1135.4 1018.5 L1137.0 1019.8 L1138.6 1021.0 L1140.2 1022.2 L1141.8 1023.4 L1143.4 1024.5 L1145.1 1025.6 L1146.8 1026.7 L1148.5 1027.7 L1150.2 1028.7 L1151.9 1029.7 L1153.7 1030.6 L1155.5 1031.5 L1157.3 1032.4 L1159.1 1033.3 L1160.9 1034.2 L1162.7 1035.0 L1164.6 1035.8 L1166.4 1036.6 L1168.2 1037.5 L1170.0 1038.3 L1171.9 1039.0 L1173.7 1039.8 L1175.6 1040.6 L1177.4 1041.3 L1179.3 1042.1 L1181.2 1042.8 L1183.0 1043.5 L1184.9 1044.2 L1186.8 1044.9 L1188.6 1045.6 L1190.5 1046.3 L1192.4 1047.0 L1194.3 1047.6 L1196.2 1048.3 L1198.1 1048.9 L1200.0 1049.6 L1201.9 1050.2 L1203.8 1050.9 L1205.6 1051.5 L1207.5 1052.2 L1209.4 1052.8 L1211.3 1053.4 L1213.2 1054.1 L1215.1 1054.7 L1217.0 1055.3 L1218.9 1055.9 L1220.9 1056.5 L1222.8 1057.0 L1224.7 1057.6 L1226.6 1058.1 L1228.6 1058.7 L1230.5 1059.2 L1232.4 1059.7 L1234.4 1060.2 L1236.3 1060.7 L1238.2 1061.2 L1240.2 1061.6 L1242.1 1062.1 L1244.1 1062.5 L1246.0 1062.9 L1248.0 1063.3 L1250.0 1063.7 L1251.9 1064.0 L1253.9 1064.4 L1255.9 1064.8 L1257.8 1065.1 L1259.8 1065.5 L1261.8 1065.8 L1263.7 1066.2 L1265.7 1066.5 L1267.7 1066.9 L1269.7 1067.2 L1271.6 1067.6 L1273.6 1068.0 L1275.6 1068.3 L1277.5 1068.7 L1279.5 1069.0 L1281.5 1069.4 L1283.4 1069.7 L1285.4 1070.1 L1287.4 1070.4 L1289.3 1070.8 L1291.3 1071.1 L1293.3 1071.5 L1295.2 1071.8 L1297.2 1072.2 L1299.2 1072.5 L1301.2 1072.8 L1303.1 1073.2 L1305.1 1073.5 L1307.1 1073.8 L1309.1 1074.1 L1311.0 1074.5 L1313.0 1074.8 L1315.0 1075.1 L1316.9 1075.4 L1318.9 1075.7 L1320.9 1076.0 L1322.9 1076.4 L1324.9 1076.7 L1326.8 1077.0 L1328.8 1077.3 L1330.8 1077.6 L1332.8 1077.9 L1334.7 1078.2 L1336.7 1078.5 L1338.7 1078.8 L1340.7 1079.1 L1342.6 1079.4 L1344.6 1079.7 L1346.6 1080.0 L1348.6 1080.3 L1350.6 1080.6 L1352.5 1080.9 L1354.5 1081.2 L1356.5 1081.5 L1358.5 1081.8 L1360.5 1082.1 L1362.4 1082.4 L1364.4 1082.7 L1366.4 1083.0 L1368.4 1083.2 L1370.4 1083.5 L1372.3 1083.8 L1374.3 1084.1 L1376.3 1084.3 L1378.3 1084.6 L1380.3 1084.9 L1382.2 1085.1 L1384.2 1085.4 L1386.2 1085.7 L1388.2 1085.9 L1390.2 1086.2 L1392.2 1086.4 L1394.1 1086.7 L1396.1 1086.9 L1398.1 1087.2 L1400.1 1087.4 L1402.1 1087.6 L1404.1 1087.9 L1406.0 1088.1 L1408.0 1088.4 L1410.0 1088.6 L1412.0 1088.8 L1414.0 1089.1 L1416.0 1089.3 L1418.0 1089.5 L1419.9 1089.7 L1421.9 1090.0 L1423.9 1090.2 L1425.9 1090.4 L1427.9 1090.6 L1429.9 1090.9 L1431.9 1091.1 L1433.9 1091.3 L1435.8 1091.5 L1437.8 1091.7 L1439.8 1092.0 L1441.8 1092.2 L1443.8 1092.4 L1445.8 1092.6 L1447.8 1092.8 L1449.8 1093.0 L1451.8 1093.2 L1453.8 1093.4 L1455.7 1093.6 L1457.7 1093.8 L1459.7 1094.0 L1461.7 1094.2 L1463.7 1094.4 L1465.7 1094.6 L1467.7 1094.8 L1469.7 1095.0 L1471.7 1095.2 L1473.7 1095.4 L1475.6 1095.6 L1477.6 1095.8 L1479.6 1096.0 L1481.6 1096.2 L1483.6 1096.4 L1485.6 1096.6 L1487.6 1096.8 L1489.6 1096.9 L1491.6 1097.1 L1493.6 1097.3 L1495.6 1097.5 L1497.6 1097.7 L1499.6 1097.8 L1501.5 1098.0 L1503.5 1098.2 L1505.5 1098.4 L1507.5 1098.5 L1509.5 1098.7 L1511.5 1098.9 L1513.5 1099.1 L1515.5 1099.2 L1517.5 1099.4 L1519.5 1099.6 L1521.5 1099.7 L1523.5 1099.9 L1525.5 1100.0 L1527.4 1100.2 L1529.4 1100.4 L1531.4 1100.5 L1533.4 1100.7 L1535.4 1100.8 L1537.4 1101.0 L1539.4 1101.1 L1541.4 1101.3 L1543.4 1101.5 L1545.4 1101.6 L1547.4 1101.8 L1549.4 1101.9 L1551.4 1102.1 L1553.4 1102.2 L1555.4 1102.4 L1557.3 1102.6 L1559.3 1102.7 L1561.3 1102.9 L1563.3 1103.0 L1565.3 1103.2 L1567.3 1103.3 L1569.3 1103.5 L1571.3 1103.6 L1573.3 1103.8 L1575.3 1103.9 L1577.3 1104.1 L1579.3 1104.2 L1581.3 1104.4 L1583.3 1104.5 L1585.3 1104.7 L1587.2 1104.8 L1589.2 1105.0 L1591.2 1105.1 L1593.2 1105.3 L1595.2 1105.4 L1597.2 1105.6 L1599.2 1105.7 L1601.2 1105.9 L1603.2 1106.0 L1605.2 1106.1 L1607.2 1106.3 L1609.2 1106.4 L1611.2 1106.6 L1613.2 1106.7 L1615.2 1106.9 L1617.2 1107.0 L1619.2 1107.1 L1621.2 1107.3 L1623.2 1107.4 L1625.1 1107.6 L1627.1 1107.7 L1629.1 1107.8 L1631.1 1108.0 L1633.1 1108.1 L1635.1 1108.2 L1637.1 1108.4 L1639.1 1108.5 L1641.1 1108.6 L1643.1 1108.8 L1645.1 1108.9 L1647.1 1109.0 L1649.1 1109.2 L1651.1 1109.3 L1653.1 1109.4 L1655.1 1109.6 L1657.1 1109.7 L1659.1 1109.8 L1661.1 1109.9 L1663.1 1110.1 L1665.1 1110.2 L1667.1 1110.3 L1669.1 1110.4 L1671.1 1110.6 L1673.0 1110.7 L1675.0 1110.8 L1677.0 1110.9 L1679.0 1111.1 L1681.0 1111.2 L1683.0 1111.3 L1685.0 1111.4 L1687.0 1111.5 L1689.0 1111.6 L1691.0 1111.8 L1693.0 1111.9 L1695.0 1112.0 L1697.0 1112.1 L1699.0 1112.2 L1701.0 1112.3 L1703.0 1112.4 L1705.0 1112.5 L1707.0 1112.6 L1709.0 1112.8 L1711.0 1112.9 L1713.0 1113.0 L1715.0 1113.1 L1717.0 1113.2 L1719.0 1113.3 L1721.0 1113.4 L1723.0 1113.5 L1725.0 1113.6 L1727.0 1113.7 L1729.0 1113.8 L1731.0 1113.9 L1733.0 1114.0 L1735.0 1114.1 L1737.0 1114.2 L1739.0 1114.3 L1741.0 1114.4 L1743.0 1114.5 L1745.0 1114.5 L1747.0 1114.6 L1749.0 1114.7 L1751.0 1114.8 L1753.0 1114.9 L1755.0 1115.0 L1757.0 1115.1 L1759.0 1115.2 L1761.0 1115.2 L1763.0 1115.3 L1765.0 1115.4 L1765.0 1115.4"/>
</g>
<g shape-rendering="crispEdges">
<line x1="810.8" y1="286.5" x2="707.1" y2="345.6" stroke="#000" stroke-width="5.8"/><polygon fill="#000" points="679.3,361.4 703.8,335.7 713.9,353.5"/>
<line x1="855.6" y1="400.5" x2="752.2" y2="458.6" stroke="#000" stroke-width="5.8"/><polygon fill="#000" points="724.3,474.3 748.9,448.7 759.0,466.6"/>
<line x1="893.6" y1="469.3" x2="788.3" y2="528.5" stroke="#000" stroke-width="5.8"/><polygon fill="#000" points="760.4,544.2 785.0,518.6 795.1,536.5"/>
<line x1="920.3" y1="600.9" x2="815.4" y2="660.4" stroke="#000" stroke-width="5.8"/><polygon fill="#000" points="787.6,676.2 812.1,650.5 822.2,668.3"/>
<line x1="872.9" y1="329.3" x2="1088.2" y2="361.2" stroke="#000" stroke-width="5.8"/><polygon fill="#000" points="1119.9,365.9 1084.8,371.1 1087.8,350.8"/>
<line x1="941.6" y1="472.6" x2="1128.1" y2="499.3" stroke="#000" stroke-width="5.8"/><polygon fill="#000" points="1159.8,503.8 1124.7,509.1 1127.6,488.8"/>
</g>
<g font-family="'Noto Serif CJK SC','Liberation Serif',serif" font-size="100">
<text transform="translate(717.4 735.2) scale(1.057 0.965)" x="-5" y="0">a</text>
<text transform="translate(698.3 614.6) scale(0.887 0.993)" x="-4" y="0">b</text>
<text transform="translate(669.9 514.9) scale(1.002 0.958)" x="-5" y="0">c</text>
<text transform="translate(630.9 409.0) scale(0.880 1.002)" x="-5" y="0">d</text>
<text transform="translate(1136.2 398.2) scale(0.993 0.967)" x="-5" y="0">e</text>
<text transform="translate(1187.1 542.6) scale(1.171 0.954)" x="-3" y="0">f</text>
</g>
<g font-family="'Liberation Serif',serif" font-size="75" stroke="#000" stroke-width="1">
<text transform="translate(219 1159.3) scale(1 1.040)" text-anchor="end">20</text>
<text transform="translate(219 917.0) scale(1 1.040)" text-anchor="end">40</text>
<text transform="translate(219 674.8) scale(1 1.040)" text-anchor="end">60</text>
<text transform="translate(219 432.6) scale(1 1.040)" text-anchor="end">80</text>
<text transform="translate(219 190.3) scale(1 1.040)" text-anchor="end">100</text>
<text transform="translate(560.0 1352.6) scale(1 1.040)" text-anchor="middle">400</text>
<text transform="translate(1162.0 1352.6) scale(1 1.040)" text-anchor="middle">500</text>
<text transform="translate(1764.0 1352.6) scale(1 1.040)" text-anchor="middle">600</text>
</g>
<g font-family="'Liberation Serif','Noto Serif CJK SC',serif" font-weight="bold" font-size="74">
<text x="732" y="1458" letter-spacing="0.82">Temperature (<tspan x="1192.7" dy="5" font-size="85" letter-spacing="0">&#176;</tspan><tspan x="1221.3" dy="-5" font-weight="normal" font-size="79" stroke="#000" stroke-width="1.3" letter-spacing="0">C</tspan><tspan x="1268.6" letter-spacing="0">)</tspan></text>
<text transform="translate(87 794.6) rotate(-90)" letter-spacing="0.7">Weight (%)</text>
</g>
</svg></body></html>
